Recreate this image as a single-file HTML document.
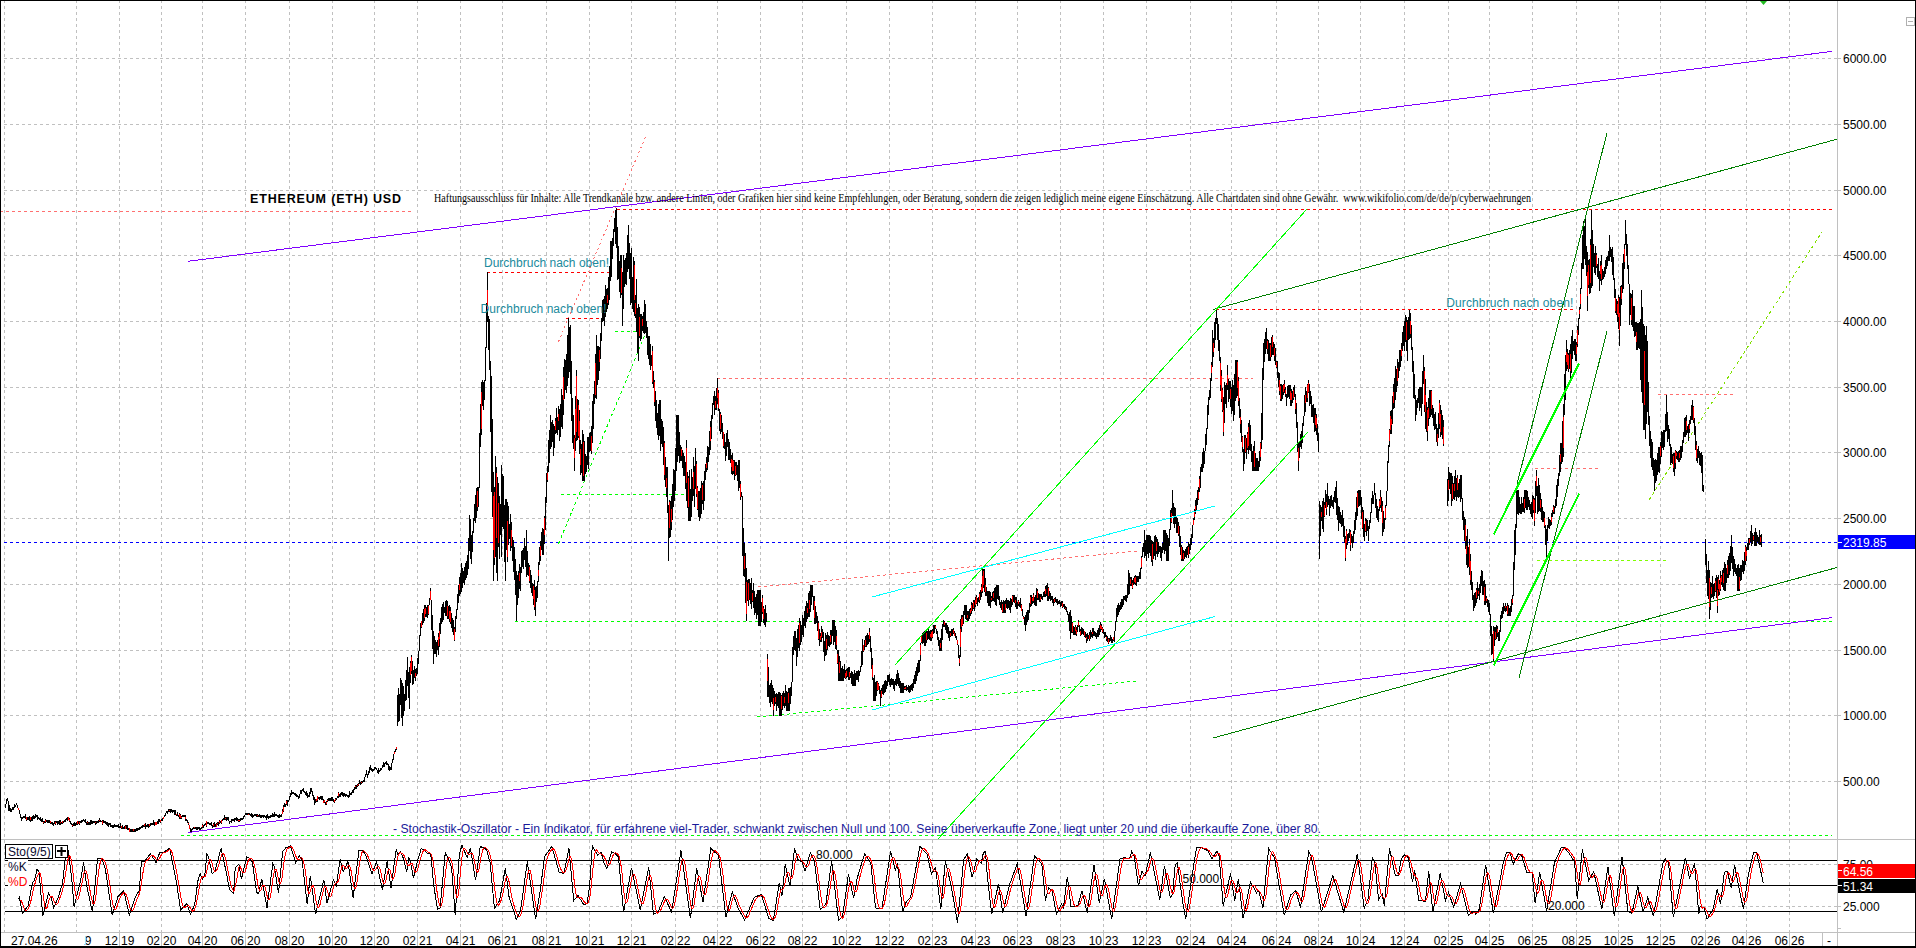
<!DOCTYPE html>
<html><head><meta charset="utf-8"><style>
html,body{margin:0;padding:0;background:#fff;width:1916px;height:948px;overflow:hidden}
svg{display:block}
</style></head><body>
<svg width="1916" height="948" viewBox="0 0 1916 948">
<rect width="1916" height="948" fill="#fff"/>
<path d="M4.5 0V932 M76.5 0V932 M119.5 0V932 M161.5 0V932 M202.5 0V932 M245.5 0V932 M289.5 0V932 M332.5 0V932 M374.5 0V932 M417.5 0V932 M460.5 0V932 M502.5 0V932 M546.5 0V932 M589.5 0V932 M631.5 0V932 M675.5 0V932 M717.5 0V932 M760.5 0V932 M802.5 0V932 M846.5 0V932 M889.5 0V932 M932.5 0V932 M975.5 0V932 M1017.5 0V932 M1060.5 0V932 M1103.5 0V932 M1146.5 0V932 M1190.5 0V932 M1231.5 0V932 M1276.5 0V932 M1318.5 0V932 M1360.5 0V932 M1404.5 0V932 M1448.5 0V932 M1489.5 0V932 M1532.5 0V932 M1576.5 0V932 M1618.5 0V932 M1660.5 0V932 M1705.5 0V932 M1746.5 0V932 M1789.5 0V932" stroke="#c0c0c0" stroke-width="1" stroke-dasharray="3 3" fill="none"/><path d="M4 58.5H1837 M4 124.5H1837 M4 190.5H1837 M4 255.5H1837 M4 321.5H1837 M4 387.5H1837 M4 452.5H1837 M4 518.5H1837 M4 584.5H1837 M4 650.5H1837 M4 715.5H1837 M4 781.5H1837 M4 864.5H1837 M4 906.5H1837" stroke="#c0c0c0" stroke-width="1" stroke-dasharray="3 3" fill="none"/><rect x="0" y="839" width="1916" height="1" fill="#c0c0c0"/><rect x="0" y="932" width="1916" height="1" fill="#c0c0c0"/><rect x="1837" y="0" width="1" height="932" fill="#c0c0c0"/><path d="M76.5 933V946 M119.5 933V946 M161.5 933V946 M202.5 933V946 M245.5 933V946 M289.5 933V946 M332.5 933V946 M374.5 933V946 M417.5 933V946 M460.5 933V946 M502.5 933V946 M546.5 933V946 M589.5 933V946 M631.5 933V946 M675.5 933V946 M717.5 933V946 M760.5 933V946 M802.5 933V946 M846.5 933V946 M889.5 933V946 M932.5 933V946 M975.5 933V946 M1017.5 933V946 M1060.5 933V946 M1103.5 933V946 M1146.5 933V946 M1190.5 933V946 M1231.5 933V946 M1276.5 933V946 M1318.5 933V946 M1360.5 933V946 M1404.5 933V946 M1448.5 933V946 M1489.5 933V946 M1532.5 933V946 M1576.5 933V946 M1618.5 933V946 M1660.5 933V946 M1705.5 933V946 M1746.5 933V946 M1789.5 933V946 M1822.5 933V946 M1837.5 933V946" stroke="#c0c0c0" stroke-width="1" fill="none"/><path d="M1838 58.5H1841 M1838 124.5H1841 M1838 190.5H1841 M1838 255.5H1841 M1838 321.5H1841 M1838 387.5H1841 M1838 452.5H1841 M1838 518.5H1841 M1838 584.5H1841 M1838 650.5H1841 M1838 715.5H1841 M1838 781.5H1841 M1838 864.5H1841 M1838 906.5H1841 M1838 928.5H1841" stroke="#c0c0c0" stroke-width="1" fill="none"/><line x1="0" y1="211.5" x2="411" y2="211.5" stroke="#ff7070" stroke-width="1" stroke-dasharray="3 3" shape-rendering="crispEdges"/><line x1="617" y1="209.5" x2="1832" y2="209.5" stroke="#ff0000" stroke-width="1" stroke-dasharray="3 3" shape-rendering="crispEdges"/><line x1="487" y1="272.5" x2="609" y2="272.5" stroke="#ff0000" stroke-width="1" stroke-dasharray="3 3" shape-rendering="crispEdges"/><line x1="566" y1="318.5" x2="599" y2="318.5" stroke="#ff0000" stroke-width="1" stroke-dasharray="3 3" shape-rendering="crispEdges"/><line x1="1216" y1="309.5" x2="1574" y2="309.5" stroke="#ff0000" stroke-width="1" stroke-dasharray="3 3" shape-rendering="crispEdges"/><line x1="717" y1="378.5" x2="1253" y2="378.5" stroke="#ff7070" stroke-width="1" stroke-dasharray="3 3" shape-rendering="crispEdges"/><line x1="4" y1="542.5" x2="1837" y2="542.5" stroke="#0000ff" stroke-width="1" stroke-dasharray="3 3" shape-rendering="crispEdges"/><line x1="515" y1="621.5" x2="1832" y2="621.5" stroke="#00ff00" stroke-width="1" stroke-dasharray="3 3" shape-rendering="crispEdges"/><line x1="181" y1="835.5" x2="1832" y2="835.5" stroke="#00ff00" stroke-width="1" stroke-dasharray="3 3" shape-rendering="crispEdges"/><line x1="561" y1="494.5" x2="688" y2="494.5" stroke="#00ff00" stroke-width="1" stroke-dasharray="3 3" shape-rendering="crispEdges"/><line x1="615" y1="331.5" x2="647" y2="331.5" stroke="#00ff00" stroke-width="1" stroke-dasharray="3 3" shape-rendering="crispEdges"/><line x1="1535" y1="468.5" x2="1600" y2="468.5" stroke="#ff7070" stroke-width="1" stroke-dasharray="3 3" shape-rendering="crispEdges"/><line x1="1537" y1="560.5" x2="1667" y2="560.5" stroke="#80ff00" stroke-width="1" stroke-dasharray="3 3" shape-rendering="crispEdges"/><line x1="1658" y1="394.5" x2="1733" y2="394.5" stroke="#ff7070" stroke-width="1" stroke-dasharray="3 3" shape-rendering="crispEdges"/><line x1="558.5" y1="341.6" x2="646" y2="135.7" stroke="#ff7070" stroke-width="1" stroke-dasharray="2 3" shape-rendering="crispEdges"/><line x1="558.5" y1="543.8" x2="647" y2="330" stroke="#00ff00" stroke-width="1" stroke-dasharray="3 3" shape-rendering="crispEdges"/><line x1="758" y1="587" x2="1138" y2="551" stroke="#ff7070" stroke-width="1" stroke-dasharray="3 3" shape-rendering="crispEdges"/><line x1="757" y1="717" x2="1137" y2="681" stroke="#00ff00" stroke-width="1" stroke-dasharray="3 3" shape-rendering="crispEdges"/><line x1="1649" y1="500" x2="1822" y2="232" stroke="#80e000" stroke-width="1" stroke-dasharray="3 3" shape-rendering="crispEdges"/><path d="M5.5 803.7V807.5 M6.5 799.4V804.4 M7.5 797.5V801.2 M8.5 800.7V811.0 M9.5 805.2V811.3 M10.5 807.9V811.8 M11.5 808.7V811.5 M12.5 806.6V810.0 M13.5 807.0V810.2 M14.5 803.6V807.8 M15.5 804.5V806.6 M16.5 802.5V805.2 M17.5 804.7V808.0 M18.5 807.5V810.3 M19.5 809.8V814.0 M20.5 813.5V817.5 M21.5 817.0V820.5 M22.5 816.7V819.2 M23.5 815.6V818.2 M24.5 816.1V818.4 M25.5 814.3V818.7 M26.5 817.1V820.5 M27.5 816.9V819.8 M28.5 817.2V820.0 M29.5 815.6V820.5 M30.5 816.6V821.8 M31.5 817.2V820.8 M32.5 816.2V820.5 M33.5 814.5V818.8 M34.5 816.1V818.9 M35.5 814.4V818.0 M36.5 814.5V817.2 M37.5 815.2V819.6 M38.5 817.1V819.2 M39.5 818.0V819.8 M40.5 816.6V820.9 M41.5 819.4V821.7 M42.5 818.4V822.2 M43.5 820.7V823.5 M44.5 820.5V822.5 M45.5 819.4V822.7 M46.5 819.5V821.8 M47.5 820.4V822.5 M48.5 820.4V823.0 M49.5 820.3V822.9 M50.5 820.8V824.2 M51.5 821.5V823.8 M52.5 822.3V824.5 M53.5 822.9V825.5 M54.5 821.1V824.1 M55.5 821.2V824.6 M56.5 820.5V822.8 M57.5 820.8V825.0 M58.5 821.3V824.1 M59.5 819.7V825.2 M60.5 819.9V824.5 M61.5 821.8V824.1 M62.5 820.9V823.6 M63.5 820.7V823.0 M64.5 819.5V821.8 M65.5 819.1V821.5 M66.5 817.6V819.8 M67.5 816.5V820.5 M68.5 816.5V820.0 M69.5 818.3V821.6 M70.5 821.1V823.9 M71.5 823.3V825.3 M72.5 823.6V826.5 M73.5 823.1V826.0 M74.5 821.5V826.3 M75.5 822.7V826.2 M76.5 821.7V824.5 M77.5 820.7V824.7 M78.5 821.1V823.6 M79.5 821.3V825.1 M80.5 820.5V822.9 M81.5 820.4V822.8 M82.5 819.8V821.6 M83.5 818.5V821.3 M84.5 819.6V821.9 M85.5 819.0V823.2 M86.5 821.9V824.5 M87.5 821.0V824.5 M88.5 821.8V824.5 M89.5 822.1V824.5 M90.5 819.7V824.5 M91.5 819.5V824.1 M92.5 821.0V823.5 M93.5 820.5V822.8 M94.5 820.5V823.2 M95.5 820.7V824.5 M96.5 820.6V823.5 M97.5 820.8V823.1 M98.5 820.0V823.0 M99.5 818.1V822.1 M100.5 819.5V821.8 M101.5 820.5V822.3 M102.5 820.0V824.8 M103.5 820.4V823.0 M104.5 820.9V822.8 M105.5 821.0V823.5 M106.5 821.7V825.4 M107.5 822.2V825.8 M108.5 822.5V827.1 M109.5 823.1V825.3 M110.5 823.4V827.0 M111.5 824.7V826.5 M112.5 824.6V827.5 M113.5 824.6V827.5 M114.5 823.6V827.3 M115.5 824.5V826.9 M116.5 824.5V826.8 M117.5 825.0V827.0 M118.5 823.8V827.9 M119.5 825.8V827.8 M120.5 823.2V827.9 M121.5 825.8V828.6 M122.5 824.8V829.3 M123.5 826.8V828.6 M124.5 826.4V828.6 M125.5 825.3V829.2 M126.5 825.2V829.4 M127.5 825.4V830.0 M128.5 827.9V830.4 M129.5 827.6V832.3 M130.5 828.8V831.5 M131.5 829.3V831.5 M132.5 829.2V831.5 M133.5 828.7V831.5 M134.5 828.7V831.5 M135.5 828.6V831.5 M136.5 828.4V831.1 M137.5 827.8V831.3 M138.5 827.7V830.3 M139.5 827.1V829.7 M140.5 827.0V829.3 M141.5 825.9V828.3 M142.5 825.2V828.3 M143.5 825.1V827.4 M144.5 824.0V827.3 M145.5 823.0V829.2 M146.5 824.5V826.8 M147.5 824.0V826.6 M148.5 824.0V827.6 M149.5 823.6V826.5 M150.5 823.4V825.8 M151.5 822.9V825.2 M152.5 822.8V824.9 M153.5 820.0V825.2 M154.5 822.2V825.9 M155.5 821.8V825.1 M156.5 821.9V825.4 M157.5 821.3V823.6 M158.5 819.2V823.5 M159.5 818.8V822.3 M160.5 820.1V823.2 M161.5 818.8V820.9 M162.5 817.6V820.5 M163.5 816.5V819.1 M164.5 815.2V817.4 M165.5 812.6V815.7 M166.5 810.5V813.1 M167.5 810.6V813.7 M168.5 809.1V812.4 M169.5 809.1V811.9 M170.5 808.5V812.7 M171.5 809.3V811.6 M172.5 809.6V813.1 M173.5 809.6V811.9 M174.5 810.1V814.7 M175.5 810.3V814.7 M176.5 813.5V816.2 M177.5 812.1V816.4 M178.5 815.2V817.4 M179.5 813.0V819.1 M180.5 814.4V818.5 M181.5 816.0V819.3 M182.5 815.2V817.3 M183.5 814.8V817.0 M184.5 814.5V817.3 M185.5 815.0V820.9 M186.5 818.9V821.3 M187.5 820.3V823.1 M188.5 821.5V825.2 M189.5 824.6V828.9 M190.5 828.4V832.5 M191.5 828.7V831.5 M192.5 828.0V830.2 M193.5 826.5V828.8 M194.5 826.5V829.4 M195.5 826.5V829.4 M196.5 826.5V829.7 M197.5 826.5V829.5 M198.5 826.8V829.2 M199.5 826.9V830.7 M200.5 828.0V830.5 M201.5 826.9V829.2 M202.5 823.8V828.3 M203.5 825.0V827.8 M204.5 823.9V826.0 M205.5 823.1V825.0 M206.5 820.8V826.6 M207.5 821.5V823.9 M208.5 822.3V824.4 M209.5 822.6V824.9 M210.5 822.5V824.9 M211.5 821.5V826.4 M212.5 825.1V827.5 M213.5 823.4V826.6 M214.5 821.9V826.6 M215.5 823.9V826.5 M216.5 823.0V827.1 M217.5 822.2V825.1 M218.5 822.1V826.1 M219.5 819.8V823.7 M220.5 820.7V822.7 M221.5 819.8V824.0 M222.5 819.2V821.2 M223.5 817.8V820.1 M224.5 815.3V820.0 M225.5 816.9V819.5 M226.5 816.5V820.8 M227.5 816.5V820.1 M228.5 816.5V821.4 M229.5 820.5V823.5 M230.5 820.6V822.3 M231.5 818.6V822.9 M232.5 819.0V821.2 M233.5 818.6V820.9 M234.5 818.2V821.7 M235.5 817.5V819.9 M236.5 816.7V821.4 M237.5 817.6V820.7 M238.5 818.8V821.5 M239.5 818.5V822.0 M240.5 818.3V821.0 M241.5 818.1V820.3 M242.5 818.2V820.4 M243.5 816.1V819.3 M244.5 814.5V817.2 M245.5 812.5V815.3 M246.5 812.5V815.1 M247.5 812.5V815.4 M248.5 812.5V815.1 M249.5 813.4V815.4 M250.5 813.9V816.4 M251.5 813.1V816.8 M252.5 813.9V817.5 M253.5 814.7V816.8 M254.5 814.0V816.4 M255.5 814.3V816.3 M256.5 813.5V816.8 M257.5 814.0V816.7 M258.5 814.6V816.5 M259.5 814.4V816.8 M260.5 815.2V817.5 M261.5 814.6V817.5 M262.5 814.6V817.2 M263.5 814.5V817.5 M264.5 814.5V817.0 M265.5 815.5V817.7 M266.5 815.4V819.5 M267.5 813.8V817.6 M268.5 816.1V818.5 M269.5 815.7V818.0 M270.5 815.4V817.7 M271.5 814.7V817.2 M272.5 813.0V817.1 M273.5 814.0V816.5 M274.5 811.6V816.7 M275.5 813.5V815.9 M276.5 814.3V816.3 M277.5 814.6V817.2 M278.5 815.0V817.5 M279.5 813.5V817.9 M280.5 814.5V817.0 M281.5 813.9V816.6 M282.5 809.2V814.4 M283.5 804.9V811.6 M284.5 802.7V807.1 M285.5 804.0V807.1 M286.5 800.4V804.8 M287.5 800.3V806.2 M288.5 799.5V802.3 M289.5 796.1V800.0 M290.5 792.8V796.6 M291.5 790.1V795.0 M292.5 792.0V794.4 M293.5 791.5V794.3 M294.5 792.7V794.7 M295.5 792.8V795.7 M296.5 794.2V796.5 M297.5 794.9V797.3 M298.5 796.0V798.5 M299.5 793.6V797.7 M300.5 789.9V794.4 M301.5 790.0V793.6 M302.5 788.5V790.8 M303.5 787.9V792.4 M304.5 790.6V793.2 M305.5 791.6V795.3 M306.5 790.9V796.0 M307.5 792.9V797.5 M308.5 794.6V796.5 M309.5 792.2V796.5 M310.5 787.5V793.9 M311.5 788.1V791.8 M312.5 791.3V796.2 M313.5 794.8V799.5 M314.5 797.0V804.5 M315.5 799.0V803.1 M316.5 799.0V802.1 M317.5 795.9V801.8 M318.5 797.1V799.3 M319.5 796.8V799.5 M320.5 796.3V798.8 M321.5 795.5V799.9 M322.5 796.0V799.9 M323.5 798.7V803.2 M324.5 799.5V803.0 M325.5 802.3V804.5 M326.5 800.8V805.1 M327.5 798.9V801.8 M328.5 797.5V800.7 M329.5 798.1V800.7 M330.5 798.3V801.1 M331.5 797.1V801.4 M332.5 796.8V801.2 M333.5 799.2V801.5 M334.5 799.6V802.5 M335.5 798.3V800.9 M336.5 797.6V799.8 M337.5 795.8V798.1 M338.5 792.4V797.5 M339.5 793.5V796.5 M340.5 792.9V796.9 M341.5 791.5V794.5 M342.5 792.2V796.1 M343.5 792.6V796.8 M344.5 793.2V795.7 M345.5 793.6V796.8 M346.5 794.4V796.1 M347.5 794.5V797.3 M348.5 794.7V797.5 M349.5 791.4V796.5 M350.5 792.9V794.9 M351.5 792.0V795.4 M352.5 790.4V792.9 M353.5 788.7V792.5 M354.5 787.3V789.8 M355.5 784.5V788.9 M356.5 784.9V788.5 M357.5 783.9V786.6 M358.5 782.9V785.5 M359.5 780.2V784.4 M360.5 781.8V784.5 M361.5 781.1V783.9 M362.5 781.0V783.1 M363.5 780.0V782.0 M364.5 776.8V782.3 M365.5 774.3V777.3 M366.5 770.2V774.8 M367.5 774.3V778.3 M368.5 771.2V774.8 M369.5 766.5V772.8 M370.5 765.1V769.5 M371.5 767.9V770.7 M372.5 768.8V771.5 M373.5 768.6V770.5 M374.5 767.4V769.8 M375.5 766.5V769.1 M376.5 768.2V770.4 M377.5 769.5V772.8 M378.5 768.1V773.5 M379.5 769.6V771.8 M380.5 768.4V771.2 M381.5 767.6V770.4 M382.5 765.2V768.1 M383.5 761.9V766.5 M384.5 762.6V766.5 M385.5 762.3V764.4 M386.5 760.5V764.5 M387.5 763.4V765.4 M388.5 764.2V770.1 M389.5 766.2V770.5 M390.5 767.2V769.5 M391.5 762.5V769.5 M392.5 758.7V763.0 M393.5 753.6V759.8 M394.5 751.1V754.1 M395.5 749.2V751.8 M396.5 746.5V749.7 M397.5 694.7V725.6 M398.5 688.3V721.9 M399.5 693.9V720.5 M400.5 677.5V705.2 M401.5 679.6V718.4 M402.5 683.2V725.5 M403.5 685.6V716.0 M404.5 694.3V711.0 M405.5 679.8V700.7 M406.5 669.6V699.8 M407.5 656.5V686.2 M408.5 671.6V698.2 M409.5 666.5V708.5 M410.5 660.6V683.3 M411.5 654.5V674.0 M412.5 660.6V684.5 M413.5 669.6V684.0 M414.5 665.5V678.1 M415.5 669.0V680.7 M416.5 667.7V676.0 M417.5 657.5V674.1 M418.5 650.7V663.8 M419.5 634.7V651.2 M420.5 623.2V636.3 M421.5 620.6V627.8 M422.5 612.9V624.8 M423.5 609.0V623.0 M424.5 604.5V620.6 M425.5 604.5V616.7 M426.5 606.8V616.9 M427.5 604.7V617.8 M428.5 604.8V614.5 M429.5 598.4V605.3 M430.5 587.5V600.2 M431.5 599.7V630.3 M432.5 614.8V649.2 M433.5 630.8V663.5 M434.5 635.7V654.4 M435.5 639.6V654.4 M436.5 641.9V657.4 M437.5 639.7V649.7 M438.5 632.5V654.8 M439.5 623.0V647.4 M440.5 618.3V633.8 M441.5 606.8V624.4 M442.5 604.4V622.3 M443.5 602.3V620.2 M444.5 607.1V613.4 M445.5 600.7V616.1 M446.5 599.5V616.3 M447.5 601.3V618.9 M448.5 606.3V618.8 M449.5 605.0V621.7 M450.5 607.0V623.6 M451.5 613.4V628.2 M452.5 618.2V632.4 M453.5 619.9V634.6 M454.5 626.8V640.5 M455.5 616.3V631.9 M456.5 608.8V619.0 M457.5 593.5V610.1 M458.5 585.1V603.2 M459.5 576.7V596.0 M460.5 572.9V594.3 M461.5 563.2V591.5 M462.5 568.4V587.5 M463.5 571.1V582.5 M464.5 566.6V585.3 M465.5 562.6V579.7 M466.5 560.7V577.7 M467.5 554.7V574.6 M468.5 537.7V568.9 M469.5 514.5V551.1 M470.5 518.8V558.8 M471.5 534.9V563.5 M472.5 530.8V551.6 M473.5 517.9V533.3 M474.5 504.2V521.2 M475.5 495.2V522.9 M476.5 487.7V518.1 M477.5 486.8V511.1 M478.5 487.3V506.7 M479.5 432.9V487.8 M480.5 404.3V446.8 M481.5 381.5V434.9 M482.5 380.0V405.9 M483.5 381.8V409.9 M484.5 380.2V399.5 M485.5 346.6V380.7 M486.5 302.9V348.3 M487.5 271.5V321.9 M488.5 315.9V349.8 M489.5 318.7V370.1 M490.5 360.5V432.2 M491.5 376.0V492.3 M492.5 419.0V516.9 M493.5 472.4V580.5 M494.5 487.3V565.3 M495.5 456.1V557.3 M496.5 466.5V572.5 M497.5 477.2V580.5 M498.5 482.9V547.2 M499.5 496.0V559.4 M500.5 504.2V535.2 M501.5 464.5V557.2 M502.5 473.9V527.0 M503.5 475.8V529.4 M504.5 504.6V561.6 M505.5 499.4V580.5 M506.5 498.5V549.5 M507.5 502.4V562.1 M508.5 506.0V545.3 M509.5 523.8V538.7 M510.5 513.7V550.9 M511.5 522.1V548.2 M512.5 537.2V560.8 M513.5 540.1V571.6 M514.5 547.2V579.8 M515.5 559.3V595.1 M516.5 570.7V620.5 M517.5 575.0V604.8 M518.5 570.7V597.8 M519.5 564.4V589.0 M520.5 566.5V591.4 M521.5 551.0V572.5 M522.5 550.1V567.2 M523.5 547.8V568.9 M524.5 537.5V560.1 M525.5 545.7V566.7 M526.5 529.5V577.4 M527.5 550.7V574.6 M528.5 562.5V576.0 M529.5 564.7V583.1 M530.5 570.0V588.3 M531.5 574.9V593.0 M532.5 582.7V596.0 M533.5 583.9V604.6 M534.5 579.9V609.7 M535.5 587.3V615.5 M536.5 585.7V602.4 M537.5 580.9V598.3 M538.5 562.2V582.4 M539.5 547.3V564.6 M540.5 540.6V560.7 M541.5 531.5V550.2 M542.5 528.2V554.5 M543.5 528.5V555.4 M544.5 515.5V544.3 M545.5 497.2V530.0 M546.5 473.3V502.7 M547.5 466.4V481.9 M548.5 440.0V472.2 M549.5 429.6V462.6 M550.5 414.5V448.9 M551.5 421.5V446.5 M552.5 419.8V442.3 M553.5 424.1V455.5 M554.5 425.9V447.6 M555.5 417.5V434.3 M556.5 408.3V432.7 M557.5 417.1V435.2 M558.5 405.8V430.4 M559.5 409.2V440.5 M560.5 404.2V437.2 M561.5 389.4V426.6 M562.5 395.1V428.5 M563.5 366.5V415.2 M564.5 358.7V398.7 M565.5 360.0V389.8 M566.5 353.5V392.5 M567.5 335.4V385.9 M568.5 317.5V377.7 M569.5 327.1V372.2 M570.5 324.7V393.8 M571.5 361.2V421.4 M572.5 398.2V443.0 M573.5 415.0V448.8 M574.5 435.1V470.5 M575.5 396.4V450.7 M576.5 369.5V441.3 M577.5 398.9V439.8 M578.5 399.8V438.3 M579.5 409.5V454.1 M580.5 439.5V474.9 M581.5 443.7V473.0 M582.5 429.6V480.5 M583.5 433.6V480.5 M584.5 440.9V480.5 M585.5 454.4V474.1 M586.5 455.6V472.3 M587.5 437.4V465.1 M588.5 436.6V468.9 M589.5 433.4V452.4 M590.5 431.7V451.0 M591.5 425.6V454.2 M592.5 401.0V443.0 M593.5 393.5V428.6 M594.5 380.9V403.5 M595.5 353.6V397.6 M596.5 334.5V398.7 M597.5 346.1V385.3 M598.5 345.8V379.8 M599.5 346.6V371.2 M600.5 332.9V358.6 M601.5 318.3V340.5 M602.5 299.7V321.6 M603.5 298.8V321.2 M604.5 296.4V325.7 M605.5 285.2V316.8 M606.5 288.8V311.7 M607.5 288.2V308.9 M608.5 277.1V304.7 M609.5 266.4V300.2 M610.5 241.4V281.2 M611.5 240.8V277.4 M612.5 238.2V259.1 M613.5 229.2V245.7 M614.5 218.3V231.8 M615.5 209.7V243.8 M616.5 207.5V248.3 M617.5 226.8V280.0 M618.5 246.3V278.5 M619.5 261.4V291.8 M620.5 254.6V298.1 M621.5 255.0V295.0 M622.5 272.4V325.5 M623.5 255.3V308.8 M624.5 259.7V287.1 M625.5 257.5V283.8 M626.5 252.9V285.2 M627.5 234.9V271.8 M628.5 224.5V268.6 M629.5 243.3V279.1 M630.5 253.3V304.8 M631.5 247.5V302.7 M632.5 276.5V309.0 M633.5 257.0V311.6 M634.5 260.6V316.3 M635.5 294.6V318.1 M636.5 278.8V332.1 M637.5 308.0V353.0 M638.5 304.4V360.5 M639.5 307.3V338.2 M640.5 313.8V340.7 M641.5 313.7V339.2 M642.5 315.9V330.5 M643.5 312.3V333.2 M644.5 299.5V333.6 M645.5 303.5V332.9 M646.5 321.2V338.3 M647.5 326.7V355.0 M648.5 336.1V359.4 M649.5 336.4V365.2 M650.5 343.6V369.8 M651.5 355.3V366.0 M652.5 345.8V384.4 M653.5 370.7V387.8 M654.5 380.1V405.6 M655.5 390.5V420.7 M656.5 399.9V427.8 M657.5 412.8V434.6 M658.5 404.3V439.9 M659.5 399.5V436.4 M660.5 399.5V450.7 M661.5 418.6V444.0 M662.5 421.0V447.3 M663.5 427.4V464.9 M664.5 440.5V480.1 M665.5 457.1V487.4 M666.5 466.8V496.6 M667.5 466.6V512.8 M668.5 505.0V560.5 M669.5 499.6V537.5 M670.5 501.1V537.1 M671.5 495.5V530.1 M672.5 483.9V519.6 M673.5 468.6V507.1 M674.5 470.4V500.5 M675.5 447.9V491.2 M676.5 414.5V471.1 M677.5 414.5V461.7 M678.5 414.5V456.1 M679.5 431.9V462.6 M680.5 444.5V461.3 M681.5 447.2V461.0 M682.5 449.9V467.5 M683.5 452.6V475.5 M684.5 455.5V475.8 M685.5 462.3V489.0 M686.5 439.5V501.0 M687.5 472.2V507.6 M688.5 475.7V520.5 M689.5 470.0V520.5 M690.5 488.8V520.5 M691.5 469.3V516.7 M692.5 477.3V501.0 M693.5 457.4V495.8 M694.5 465.7V506.9 M695.5 447.5V488.5 M696.5 460.5V496.7 M697.5 486.4V510.0 M698.5 491.4V516.8 M699.5 490.6V520.5 M700.5 488.2V517.9 M701.5 480.8V513.6 M702.5 483.3V504.1 M703.5 480.5V510.4 M704.5 471.0V501.0 M705.5 464.1V480.3 M706.5 457.3V471.6 M707.5 446.2V469.5 M708.5 446.6V462.2 M709.5 431.2V455.4 M710.5 421.0V450.4 M711.5 415.0V438.5 M712.5 402.9V418.9 M713.5 395.7V405.4 M714.5 391.3V414.5 M715.5 395.5V409.8 M716.5 388.4V410.2 M717.5 377.5V403.6 M718.5 389.5V410.5 M719.5 408.7V431.4 M720.5 411.9V434.4 M721.5 414.9V431.7 M722.5 423.1V438.8 M723.5 431.5V448.4 M724.5 434.2V448.8 M725.5 442.4V460.5 M726.5 432.7V456.2 M727.5 429.5V447.2 M728.5 439.4V459.7 M729.5 442.1V459.5 M730.5 449.3V463.2 M731.5 455.2V474.3 M732.5 453.4V474.7 M733.5 459.8V474.1 M734.5 460.1V480.1 M735.5 461.7V476.4 M736.5 462.1V474.8 M737.5 465.1V480.7 M738.5 459.5V490.6 M739.5 459.5V487.5 M740.5 481.0V499.9 M741.5 491.8V496.7 M742.5 496.2V556.2 M743.5 527.9V576.2 M744.5 543.4V577.0 M745.5 552.6V603.4 M746.5 568.1V620.5 M747.5 580.3V600.6 M748.5 578.8V605.7 M749.5 578.5V600.1 M750.5 583.1V603.6 M751.5 577.6V609.1 M752.5 589.7V601.8 M753.5 582.5V608.3 M754.5 590.9V614.8 M755.5 596.6V613.2 M756.5 594.3V618.9 M757.5 589.5V614.7 M758.5 589.5V625.5 M759.5 589.5V625.5 M760.5 589.5V625.5 M761.5 602.3V622.0 M762.5 594.9V613.7 M763.5 605.8V623.0 M764.5 608.7V624.6 M765.5 605.2V626.9 M766.5 612.9V622.0 M767.5 654.3V697.1 M768.5 667.4V697.0 M769.5 685.0V702.6 M770.5 683.4V706.8 M771.5 679.5V702.2 M772.5 685.0V704.3 M773.5 687.8V715.5 M774.5 690.6V705.7 M775.5 694.0V703.9 M776.5 693.3V711.3 M777.5 694.4V705.5 M778.5 692.0V707.6 M779.5 692.1V715.5 M780.5 692.7V715.5 M781.5 694.6V715.5 M782.5 693.1V710.0 M783.5 691.4V706.1 M784.5 693.0V708.4 M785.5 684.5V706.1 M786.5 691.4V710.5 M787.5 692.2V710.5 M788.5 688.0V710.5 M789.5 688.2V710.5 M790.5 686.9V703.9 M791.5 681.9V696.0 M792.5 647.4V682.4 M793.5 635.6V654.6 M794.5 631.0V650.2 M795.5 630.9V650.8 M796.5 638.0V665.5 M797.5 628.7V656.7 M798.5 624.7V648.2 M799.5 618.4V650.5 M800.5 620.9V645.4 M801.5 625.1V642.0 M802.5 614.8V634.9 M803.5 618.0V637.1 M804.5 611.1V625.7 M805.5 606.3V627.7 M806.5 600.8V621.5 M807.5 602.9V619.1 M808.5 593.4V617.2 M809.5 590.7V616.8 M810.5 584.5V612.2 M811.5 584.5V604.8 M812.5 584.5V597.3 M813.5 596.0V610.3 M814.5 596.1V624.0 M815.5 605.7V624.0 M816.5 611.9V623.1 M817.5 615.8V631.0 M818.5 621.1V640.2 M819.5 628.5V646.1 M820.5 633.1V641.5 M821.5 625.7V641.9 M822.5 628.5V638.1 M823.5 632.1V652.3 M824.5 640.6V660.5 M825.5 632.7V656.2 M826.5 634.6V654.5 M827.5 632.1V650.1 M828.5 635.1V646.3 M829.5 636.0V646.7 M830.5 629.5V644.6 M831.5 629.8V643.6 M832.5 619.5V636.4 M833.5 619.5V644.7 M834.5 619.5V641.9 M835.5 625.9V649.0 M836.5 629.6V650.0 M837.5 649.5V664.4 M838.5 649.8V680.5 M839.5 656.4V680.5 M840.5 660.7V680.5 M841.5 667.5V680.5 M842.5 666.1V680.5 M843.5 669.3V680.5 M844.5 664.2V678.2 M845.5 669.6V678.8 M846.5 669.1V678.3 M847.5 667.7V676.6 M848.5 667.2V679.5 M849.5 666.5V680.3 M850.5 672.6V678.3 M851.5 670.6V683.5 M852.5 672.4V685.5 M853.5 673.5V685.5 M854.5 670.3V685.5 M855.5 673.0V685.5 M856.5 671.4V679.9 M857.5 670.6V680.0 M858.5 670.1V681.7 M859.5 670.6V675.6 M860.5 666.3V672.3 M861.5 651.4V666.9 M862.5 639.1V665.4 M863.5 644.9V652.0 M864.5 640.0V649.9 M865.5 635.8V647.1 M866.5 635.0V647.4 M867.5 633.2V645.2 M868.5 634.9V644.4 M869.5 627.5V642.1 M870.5 636.1V652.0 M871.5 648.3V669.2 M872.5 658.3V680.0 M873.5 678.4V700.5 M874.5 674.8V700.5 M875.5 682.2V700.5 M876.5 680.7V695.8 M877.5 681.1V691.4 M878.5 683.1V690.2 M879.5 686.1V694.2 M880.5 689.9V705.5 M881.5 687.6V697.5 M882.5 684.9V694.2 M883.5 683.9V694.5 M884.5 681.4V693.0 M885.5 679.8V691.8 M886.5 681.2V689.2 M887.5 674.8V686.1 M888.5 674.5V681.8 M889.5 674.3V684.6 M890.5 678.5V686.5 M891.5 677.5V685.3 M892.5 678.5V685.3 M893.5 678.8V688.8 M894.5 680.5V690.5 M895.5 678.5V684.5 M896.5 673.6V685.6 M897.5 669.5V683.5 M898.5 673.4V686.1 M899.5 677.6V687.9 M900.5 680.5V692.5 M901.5 682.8V692.5 M902.5 682.9V692.5 M903.5 682.9V692.5 M904.5 685.8V690.3 M905.5 685.8V689.8 M906.5 684.5V690.7 M907.5 686.6V689.5 M908.5 685.3V691.6 M909.5 686.1V692.5 M910.5 684.8V691.9 M911.5 684.3V689.8 M912.5 682.5V691.0 M913.5 678.9V688.0 M914.5 675.1V683.5 M915.5 670.7V683.7 M916.5 667.2V681.4 M917.5 662.8V676.0 M918.5 659.6V672.7 M919.5 660.2V671.6 M920.5 642.6V660.7 M921.5 634.8V643.1 M922.5 632.9V643.5 M923.5 632.1V643.3 M924.5 631.3V645.5 M925.5 629.5V645.5 M926.5 629.5V642.8 M927.5 630.5V640.3 M928.5 629.0V639.2 M929.5 630.8V639.8 M930.5 629.8V640.5 M931.5 630.4V640.5 M932.5 628.7V638.4 M933.5 624.5V633.6 M934.5 624.5V632.7 M935.5 624.5V629.4 M936.5 628.5V633.5 M937.5 631.0V640.1 M938.5 637.1V646.4 M939.5 639.5V650.5 M940.5 638.2V650.5 M941.5 629.4V650.5 M942.5 624.3V639.9 M943.5 619.5V627.3 M944.5 621.3V627.4 M945.5 623.0V630.2 M946.5 623.2V633.1 M947.5 625.2V633.5 M948.5 627.3V637.6 M949.5 631.4V640.5 M950.5 631.0V636.8 M951.5 628.9V635.5 M952.5 628.7V635.9 M953.5 627.5V634.1 M954.5 631.1V636.4 M955.5 632.7V637.6 M956.5 636.0V640.3 M957.5 639.7V645.2 M958.5 644.7V658.1 M959.5 655.3V665.5 M960.5 619.1V657.2 M961.5 615.2V632.3 M962.5 614.9V626.3 M963.5 610.6V623.5 M964.5 604.5V615.1 M965.5 604.5V619.1 M966.5 604.5V619.6 M967.5 611.4V620.5 M968.5 610.9V620.5 M969.5 608.8V618.9 M970.5 607.5V616.0 M971.5 602.2V614.1 M972.5 602.5V610.6 M973.5 600.1V609.0 M974.5 599.9V611.0 M975.5 597.0V606.9 M976.5 595.0V604.2 M977.5 598.2V606.2 M978.5 596.8V602.4 M979.5 592.3V602.9 M980.5 590.3V600.1 M981.5 584.4V596.7 M982.5 566.5V592.9 M983.5 569.2V587.8 M984.5 568.6V591.7 M985.5 578.3V595.8 M986.5 587.4V595.7 M987.5 590.9V602.6 M988.5 590.9V605.8 M989.5 590.5V606.0 M990.5 591.5V607.5 M991.5 596.0V601.6 M992.5 591.6V600.7 M993.5 591.1V601.3 M994.5 588.3V601.9 M995.5 587.0V604.6 M996.5 584.5V605.5 M997.5 584.5V599.0 M998.5 584.5V599.7 M999.5 596.1V604.9 M1000.5 601.8V608.4 M1001.5 599.6V610.1 M1002.5 602.0V612.5 M1003.5 600.0V612.5 M1004.5 600.7V612.5 M1005.5 599.9V612.5 M1006.5 598.2V607.6 M1007.5 599.9V609.1 M1008.5 599.9V607.9 M1009.5 600.7V610.1 M1010.5 597.5V612.5 M1011.5 598.6V606.5 M1012.5 594.5V604.5 M1013.5 594.5V602.0 M1014.5 594.5V602.7 M1015.5 597.0V606.7 M1016.5 596.6V608.5 M1017.5 601.9V608.5 M1018.5 599.7V605.5 M1019.5 601.8V607.3 M1020.5 597.5V607.8 M1021.5 603.5V611.1 M1022.5 609.0V616.4 M1023.5 615.9V619.0 M1024.5 616.7V625.4 M1025.5 614.6V630.5 M1026.5 612.4V624.9 M1027.5 609.6V622.4 M1028.5 609.8V620.0 M1029.5 602.7V613.3 M1030.5 594.5V606.6 M1031.5 594.5V605.5 M1032.5 596.7V603.7 M1033.5 593.0V602.6 M1034.5 597.0V604.9 M1035.5 594.8V605.5 M1036.5 587.5V605.5 M1037.5 589.1V600.4 M1038.5 593.0V600.1 M1039.5 593.9V602.0 M1040.5 594.3V602.2 M1041.5 593.9V599.0 M1042.5 596.0V600.4 M1043.5 591.9V597.1 M1044.5 591.4V596.6 M1045.5 585.8V597.1 M1046.5 585.3V596.1 M1047.5 582.5V600.5 M1048.5 586.7V600.5 M1049.5 591.1V598.6 M1050.5 593.0V601.1 M1051.5 595.9V600.4 M1052.5 595.7V603.1 M1053.5 598.6V605.5 M1054.5 597.9V603.4 M1055.5 596.7V601.8 M1056.5 598.9V603.3 M1057.5 598.7V604.8 M1058.5 600.7V603.8 M1059.5 599.7V604.4 M1060.5 601.8V606.5 M1061.5 601.3V606.1 M1062.5 601.3V607.8 M1063.5 603.5V606.8 M1064.5 603.6V609.4 M1065.5 606.4V609.8 M1066.5 607.1V612.3 M1067.5 611.2V615.2 M1068.5 613.7V622.3 M1069.5 611.5V630.7 M1070.5 609.5V638.5 M1071.5 615.8V633.2 M1072.5 621.6V632.9 M1073.5 626.3V635.0 M1074.5 626.6V635.3 M1075.5 625.4V634.6 M1076.5 627.4V635.5 M1077.5 624.6V631.9 M1078.5 619.5V626.7 M1079.5 625.1V632.4 M1080.5 628.8V635.5 M1081.5 626.8V635.0 M1082.5 628.4V634.0 M1083.5 629.1V635.4 M1084.5 630.5V636.8 M1085.5 631.8V638.4 M1086.5 634.2V642.5 M1087.5 632.5V640.7 M1088.5 634.5V639.0 M1089.5 632.4V640.6 M1090.5 630.4V638.7 M1091.5 632.0V636.6 M1092.5 627.5V638.2 M1093.5 628.2V636.1 M1094.5 630.8V636.3 M1095.5 631.6V637.0 M1096.5 632.7V638.5 M1097.5 630.2V637.3 M1098.5 628.3V637.4 M1099.5 625.0V634.5 M1100.5 621.5V631.7 M1101.5 623.8V630.4 M1102.5 626.6V632.5 M1103.5 629.4V633.7 M1104.5 632.4V638.3 M1105.5 632.0V637.2 M1106.5 634.9V640.6 M1107.5 636.3V641.8 M1108.5 637.7V643.5 M1109.5 637.9V641.9 M1110.5 634.5V640.5 M1111.5 637.1V642.7 M1112.5 638.5V642.5 M1113.5 636.5V640.5 M1114.5 630.5V642.0 M1115.5 621.1V631.0 M1116.5 608.4V621.6 M1117.5 605.1V616.7 M1118.5 603.0V614.9 M1119.5 605.1V612.1 M1120.5 602.3V610.1 M1121.5 598.9V609.0 M1122.5 598.6V607.3 M1123.5 596.2V604.5 M1124.5 595.5V599.9 M1125.5 594.9V600.6 M1126.5 595.0V602.0 M1127.5 584.0V597.9 M1128.5 569.5V594.8 M1129.5 573.2V593.9 M1130.5 576.8V585.5 M1131.5 577.0V586.2 M1132.5 579.9V589.3 M1133.5 578.4V584.8 M1134.5 576.4V584.4 M1135.5 575.4V585.1 M1136.5 575.6V585.6 M1137.5 575.5V581.8 M1138.5 576.2V581.8 M1139.5 571.6V579.3 M1140.5 568.2V578.6 M1141.5 555.7V568.7 M1142.5 546.9V556.8 M1143.5 542.5V551.5 M1144.5 529.5V558.2 M1145.5 540.0V556.1 M1146.5 534.7V560.5 M1147.5 535.2V554.2 M1148.5 535.1V557.9 M1149.5 534.5V553.1 M1150.5 535.9V555.8 M1151.5 539.6V562.1 M1152.5 540.7V565.5 M1153.5 541.8V559.1 M1154.5 535.6V555.7 M1155.5 534.5V559.7 M1156.5 536.7V553.5 M1157.5 538.5V557.1 M1158.5 542.3V554.2 M1159.5 546.0V552.0 M1160.5 545.5V558.4 M1161.5 546.5V560.5 M1162.5 542.8V552.5 M1163.5 529.5V549.6 M1164.5 529.5V553.8 M1165.5 529.5V551.2 M1166.5 533.4V560.5 M1167.5 535.1V560.5 M1168.5 537.5V560.5 M1169.5 529.0V545.8 M1170.5 509.8V530.1 M1171.5 508.4V523.1 M1172.5 489.5V516.2 M1173.5 502.6V523.6 M1174.5 506.7V527.7 M1175.5 507.6V523.9 M1176.5 516.9V532.8 M1177.5 517.7V532.6 M1178.5 522.4V536.2 M1179.5 525.7V547.1 M1180.5 536.0V555.4 M1181.5 544.7V560.5 M1182.5 546.5V560.5 M1183.5 550.1V560.5 M1184.5 550.5V559.2 M1185.5 549.2V557.4 M1186.5 547.3V557.8 M1187.5 546.3V555.3 M1188.5 541.6V557.7 M1189.5 544.2V554.0 M1190.5 538.4V550.3 M1191.5 533.5V545.1 M1192.5 524.5V537.9 M1193.5 517.5V525.2 M1194.5 509.1V519.5 M1195.5 499.8V514.4 M1196.5 497.5V509.7 M1197.5 489.5V505.3 M1198.5 487.4V499.5 M1199.5 475.8V491.6 M1200.5 467.2V487.7 M1201.5 464.2V472.2 M1202.5 451.8V471.6 M1203.5 448.2V468.1 M1204.5 450.9V464.3 M1205.5 434.0V451.4 M1206.5 428.2V444.9 M1207.5 405.4V428.7 M1208.5 396.8V415.1 M1209.5 389.6V399.5 M1210.5 377.5V398.3 M1211.5 361.9V380.5 M1212.5 330.1V366.8 M1213.5 338.4V356.9 M1214.5 321.8V347.8 M1215.5 318.3V340.3 M1216.5 307.5V323.8 M1217.5 318.4V339.7 M1218.5 324.3V350.5 M1219.5 340.0V360.5 M1220.5 357.1V391.2 M1221.5 370.3V401.8 M1222.5 388.2V412.4 M1223.5 396.7V435.5 M1224.5 381.5V423.0 M1225.5 384.8V403.5 M1226.5 383.3V407.9 M1227.5 364.5V390.4 M1228.5 378.9V402.3 M1229.5 381.2V398.9 M1230.5 381.3V406.5 M1231.5 387.0V413.5 M1232.5 379.6V410.6 M1233.5 384.5V420.5 M1234.5 373.8V414.9 M1235.5 359.5V400.6 M1236.5 359.5V398.1 M1237.5 359.5V395.7 M1238.5 377.0V405.7 M1239.5 397.8V417.7 M1240.5 408.9V433.0 M1241.5 420.3V442.0 M1242.5 436.1V452.0 M1243.5 449.2V470.5 M1244.5 435.4V463.9 M1245.5 435.0V453.2 M1246.5 437.6V459.0 M1247.5 431.8V449.9 M1248.5 423.4V453.5 M1249.5 419.5V450.4 M1250.5 425.3V451.1 M1251.5 444.2V461.5 M1252.5 450.8V470.5 M1253.5 446.2V470.5 M1254.5 441.3V470.5 M1255.5 452.7V470.5 M1256.5 458.4V470.5 M1257.5 458.0V470.5 M1258.5 461.0V470.5 M1259.5 451.4V466.7 M1260.5 442.2V461.3 M1261.5 412.6V449.3 M1262.5 368.2V440.4 M1263.5 343.1V379.8 M1264.5 338.5V362.3 M1265.5 332.2V354.3 M1266.5 327.5V348.6 M1267.5 339.3V354.2 M1268.5 339.8V360.5 M1269.5 343.1V360.5 M1270.5 342.6V360.5 M1271.5 337.2V357.1 M1272.5 334.5V354.7 M1273.5 342.2V354.6 M1274.5 343.6V360.8 M1275.5 348.2V364.9 M1276.5 360.7V368.4 M1277.5 361.2V378.0 M1278.5 371.7V386.8 M1279.5 373.1V394.9 M1280.5 384.3V400.5 M1281.5 384.2V400.5 M1282.5 384.6V399.1 M1283.5 383.8V395.3 M1284.5 379.5V393.1 M1285.5 387.2V396.8 M1286.5 394.3V405.5 M1287.5 386.2V398.2 M1288.5 384.5V397.3 M1289.5 384.5V398.5 M1290.5 384.5V405.5 M1291.5 388.9V405.5 M1292.5 391.2V403.4 M1293.5 386.6V400.0 M1294.5 384.5V397.4 M1295.5 393.9V413.8 M1296.5 402.8V428.3 M1297.5 421.7V451.7 M1298.5 442.6V470.5 M1299.5 440.6V457.5 M1300.5 434.4V446.8 M1301.5 430.9V448.6 M1302.5 422.9V443.3 M1303.5 415.7V426.1 M1304.5 395.3V416.2 M1305.5 387.2V412.2 M1306.5 390.9V401.9 M1307.5 384.1V402.3 M1308.5 379.5V393.3 M1309.5 384.3V405.9 M1310.5 390.8V403.5 M1311.5 395.7V417.0 M1312.5 404.6V417.2 M1313.5 403.8V422.8 M1314.5 407.9V431.7 M1315.5 407.6V431.1 M1316.5 414.3V434.8 M1317.5 424.4V441.2 M1318.5 433.3V452.4 M1319.5 500.7V558.5 M1320.5 504.6V535.6 M1321.5 506.7V521.2 M1322.5 501.0V528.8 M1323.5 498.0V532.2 M1324.5 502.1V517.1 M1325.5 490.4V507.8 M1326.5 494.4V515.2 M1327.5 482.5V507.2 M1328.5 496.1V505.1 M1329.5 498.9V515.5 M1330.5 495.6V507.6 M1331.5 495.1V506.4 M1332.5 499.9V506.6 M1333.5 497.0V508.7 M1334.5 490.9V501.5 M1335.5 486.7V503.0 M1336.5 480.5V514.9 M1337.5 497.8V520.4 M1338.5 505.7V530.5 M1339.5 506.5V523.4 M1340.5 511.6V523.5 M1341.5 514.5V527.1 M1342.5 509.7V525.7 M1343.5 517.7V537.2 M1344.5 525.8V543.3 M1345.5 536.4V560.5 M1346.5 529.3V548.5 M1347.5 534.1V544.5 M1348.5 532.9V541.1 M1349.5 528.7V538.3 M1350.5 530.1V550.5 M1351.5 534.0V543.1 M1352.5 536.1V548.4 M1353.5 530.6V543.3 M1354.5 520.1V534.0 M1355.5 511.5V529.9 M1356.5 497.0V520.0 M1357.5 491.3V515.6 M1358.5 489.5V507.2 M1359.5 489.5V505.8 M1360.5 489.5V505.4 M1361.5 496.6V519.2 M1362.5 506.7V528.9 M1363.5 509.6V536.8 M1364.5 524.2V540.5 M1365.5 518.2V531.6 M1366.5 518.5V535.6 M1367.5 520.4V530.8 M1368.5 525.6V540.5 M1369.5 519.7V528.8 M1370.5 512.3V523.1 M1371.5 498.0V512.8 M1372.5 491.1V503.9 M1373.5 494.6V503.8 M1374.5 482.5V495.1 M1375.5 493.0V507.5 M1376.5 498.9V517.7 M1377.5 506.3V520.4 M1378.5 508.6V521.6 M1379.5 498.7V510.5 M1380.5 489.5V508.2 M1381.5 497.4V512.4 M1382.5 500.8V535.5 M1383.5 510.6V532.4 M1384.5 517.8V528.6 M1385.5 505.1V519.7 M1386.5 490.9V505.6 M1387.5 461.1V491.4 M1388.5 444.8V462.6 M1389.5 428.9V447.2 M1390.5 410.6V434.1 M1391.5 410.2V433.9 M1392.5 396.4V423.8 M1393.5 383.5V409.3 M1394.5 378.3V407.8 M1395.5 365.7V400.3 M1396.5 368.5V392.0 M1397.5 358.5V385.8 M1398.5 362.2V377.6 M1399.5 350.2V371.1 M1400.5 350.2V366.5 M1401.5 343.4V361.0 M1402.5 332.4V351.1 M1403.5 326.4V346.2 M1404.5 320.8V350.9 M1405.5 314.5V341.9 M1406.5 317.0V351.0 M1407.5 319.8V360.5 M1408.5 317.3V339.8 M1409.5 309.5V339.0 M1410.5 312.9V338.1 M1411.5 324.8V350.0 M1412.5 347.3V371.8 M1413.5 360.9V397.8 M1414.5 373.8V398.8 M1415.5 395.0V420.5 M1416.5 400.4V414.6 M1417.5 397.9V407.5 M1418.5 389.3V403.4 M1419.5 386.7V411.3 M1420.5 386.5V407.5 M1421.5 386.7V415.5 M1422.5 370.7V403.8 M1423.5 354.5V383.9 M1424.5 367.1V412.0 M1425.5 378.6V429.0 M1426.5 401.7V431.8 M1427.5 406.7V440.5 M1428.5 398.3V425.7 M1429.5 389.5V418.7 M1430.5 389.5V417.4 M1431.5 389.5V415.1 M1432.5 404.7V418.4 M1433.5 408.3V426.2 M1434.5 414.2V429.6 M1435.5 412.2V429.0 M1436.5 424.1V441.8 M1437.5 427.7V445.5 M1438.5 413.0V438.0 M1439.5 399.5V429.4 M1440.5 404.7V437.1 M1441.5 409.7V434.6 M1442.5 414.5V439.2 M1443.5 419.8V446.1 M1447.5 478.7V505.5 M1448.5 466.9V500.9 M1449.5 471.7V489.4 M1450.5 472.7V494.3 M1451.5 472.9V505.5 M1452.5 476.3V500.9 M1453.5 482.6V499.0 M1454.5 475.9V500.3 M1455.5 469.5V497.1 M1456.5 478.3V500.5 M1457.5 474.7V496.6 M1458.5 482.8V497.8 M1459.5 479.2V497.4 M1460.5 474.5V502.3 M1461.5 474.5V498.8 M1462.5 498.3V519.6 M1463.5 510.5V530.1 M1464.5 516.7V540.6 M1465.5 518.8V549.2 M1466.5 535.7V564.7 M1467.5 528.7V567.9 M1468.5 547.1V567.4 M1469.5 539.2V575.1 M1470.5 554.0V585.3 M1471.5 570.8V590.2 M1472.5 581.6V599.8 M1473.5 594.6V610.5 M1474.5 592.9V608.1 M1475.5 591.8V605.5 M1476.5 587.7V602.5 M1477.5 582.2V599.0 M1478.5 588.2V595.9 M1479.5 583.9V599.7 M1480.5 575.5V593.2 M1481.5 569.5V585.7 M1482.5 570.8V595.1 M1483.5 580.7V595.1 M1484.5 579.7V605.1 M1485.5 583.6V605.0 M1486.5 595.6V603.0 M1487.5 599.2V606.6 M1488.5 599.5V612.0 M1489.5 603.3V614.5 M1490.5 614.0V635.5 M1491.5 626.0V655.4 M1492.5 634.4V654.2 M1493.5 626.0V660.5 M1494.5 626.5V646.4 M1495.5 627.0V640.1 M1496.5 625.3V638.7 M1497.5 625.5V636.9 M1498.5 631.6V640.5 M1499.5 629.5V640.5 M1500.5 615.2V631.7 M1501.5 611.2V619.3 M1502.5 607.1V617.6 M1503.5 602.7V613.9 M1504.5 605.8V610.5 M1505.5 602.5V611.7 M1506.5 605.7V610.6 M1507.5 603.3V615.5 M1508.5 605.3V615.5 M1509.5 607.5V615.5 M1510.5 605.6V615.5 M1511.5 599.1V612.1 M1512.5 595.2V605.3 M1513.5 562.3V595.7 M1514.5 530.2V569.5 M1515.5 523.8V555.4 M1516.5 489.5V528.0 M1517.5 489.5V513.9 M1518.5 489.5V515.0 M1519.5 496.6V512.9 M1520.5 503.7V513.7 M1521.5 497.3V514.3 M1522.5 502.7V511.5 M1523.5 496.8V512.0 M1524.5 489.5V513.4 M1525.5 489.5V507.9 M1526.5 489.5V510.1 M1527.5 490.5V510.2 M1528.5 497.4V506.8 M1529.5 499.7V510.1 M1530.5 504.0V514.0 M1531.5 502.1V516.5 M1532.5 494.8V519.1 M1533.5 495.5V512.7 M1534.5 497.9V525.5 M1535.5 480.8V512.7 M1536.5 469.5V495.6 M1537.5 485.5V514.0 M1538.5 478.3V511.9 M1539.5 484.5V511.3 M1540.5 492.5V511.5 M1541.5 498.5V520.4 M1542.5 507.4V522.3 M1543.5 510.7V522.3 M1544.5 511.8V528.0 M1545.5 525.1V545.4 M1546.5 529.0V560.5 M1547.5 524.6V541.2 M1548.5 516.9V528.1 M1549.5 518.7V528.7 M1550.5 519.8V526.2 M1551.5 512.6V525.4 M1552.5 510.2V516.6 M1553.5 504.9V514.0 M1554.5 505.6V513.9 M1555.5 498.5V507.8 M1556.5 484.5V506.1 M1557.5 479.0V496.8 M1558.5 473.0V486.0 M1559.5 454.6V475.5 M1560.5 443.2V471.5 M1561.5 443.3V463.7 M1562.5 420.7V462.4 M1563.5 404.3V457.0 M1564.5 374.1V414.5 M1565.5 355.4V400.2 M1566.5 339.5V370.7 M1567.5 349.1V368.6 M1568.5 353.3V371.8 M1569.5 350.2V368.7 M1570.5 344.1V382.5 M1571.5 335.7V373.0 M1572.5 329.5V359.4 M1573.5 341.0V351.1 M1574.5 338.8V354.7 M1575.5 339.0V360.5 M1576.5 341.6V360.5 M1577.5 325.8V346.8 M1578.5 318.1V334.7 M1579.5 307.0V318.6 M1580.5 287.6V308.5 M1581.5 262.7V288.6 M1582.5 235.0V269.4 M1583.5 220.6V269.4 M1584.5 225.9V258.8 M1585.5 214.5V265.1 M1586.5 245.8V275.7 M1587.5 251.5V310.5 M1588.5 259.9V287.6 M1589.5 259.2V293.8 M1590.5 239.1V293.1 M1591.5 209.5V288.4 M1592.5 230.4V285.8 M1593.5 244.1V267.1 M1594.5 253.0V273.0 M1595.5 246.4V275.3 M1596.5 252.5V267.8 M1597.5 263.5V277.2 M1598.5 257.5V279.2 M1599.5 270.8V290.5 M1600.5 260.6V280.6 M1601.5 254.5V285.0 M1602.5 269.0V279.7 M1603.5 270.9V278.8 M1604.5 266.6V277.1 M1605.5 260.1V273.7 M1606.5 257.4V269.3 M1607.5 255.9V265.5 M1608.5 251.1V260.5 M1609.5 234.5V260.5 M1610.5 246.5V256.9 M1611.5 249.2V261.5 M1612.5 246.5V274.6 M1613.5 257.2V279.9 M1614.5 278.4V298.1 M1615.5 289.4V313.2 M1616.5 298.5V314.9 M1617.5 300.8V321.6 M1618.5 295.0V329.2 M1619.5 296.6V345.5 M1620.5 286.2V326.1 M1621.5 285.4V304.5 M1622.5 263.4V292.8 M1623.5 254.1V289.2 M1624.5 244.4V268.7 M1625.5 219.5V245.2 M1626.5 234.3V256.1 M1627.5 243.5V269.3 M1628.5 264.9V284.3 M1629.5 283.8V324.8 M1630.5 292.7V314.8 M1631.5 294.3V324.8 M1632.5 289.9V326.7 M1633.5 306.1V331.1 M1634.5 305.9V337.3 M1635.5 321.8V335.8 M1636.5 321.8V349.7 M1637.5 322.7V350.3 M1638.5 322.8V347.8 M1639.5 321.6V348.5 M1640.5 319.4V379.6 M1641.5 289.5V392.3 M1642.5 307.0V403.3 M1643.5 324.2V429.8 M1644.5 325.9V430.2 M1645.5 335.0V438.5 M1646.5 325.9V423.7 M1647.5 340.6V411.6 M1648.5 381.6V425.2 M1649.5 416.0V445.8 M1650.5 431.0V458.1 M1651.5 438.5V466.5 M1652.5 442.0V470.3 M1653.5 458.4V475.9 M1654.5 459.8V490.5 M1655.5 459.2V482.5 M1656.5 460.0V480.5 M1657.5 452.6V474.7 M1658.5 446.8V472.2 M1659.5 446.8V472.5 M1660.5 441.6V463.8 M1661.5 430.6V457.2 M1662.5 431.7V447.8 M1663.5 430.0V450.3 M1664.5 429.8V447.1 M1665.5 414.0V432.3 M1666.5 394.5V430.8 M1667.5 411.7V441.6 M1668.5 424.7V439.2 M1669.5 428.5V446.2 M1670.5 443.7V465.3 M1671.5 447.0V462.6 M1672.5 453.7V463.8 M1673.5 452.7V471.6 M1674.5 452.8V475.5 M1675.5 449.5V469.2 M1676.5 450.5V459.3 M1677.5 452.2V460.0 M1678.5 450.8V461.9 M1679.5 450.1V461.5 M1680.5 445.5V460.2 M1681.5 445.9V457.6 M1682.5 440.3V451.6 M1683.5 432.1V443.3 M1684.5 418.3V437.3 M1685.5 416.8V437.3 M1686.5 414.5V434.8 M1687.5 425.7V432.7 M1688.5 424.0V440.5 M1689.5 420.0V432.9 M1690.5 416.2V423.9 M1691.5 404.5V420.3 M1692.5 399.5V420.0 M1693.5 406.3V422.9 M1694.5 417.5V434.9 M1695.5 425.6V449.5 M1696.5 440.8V460.9 M1697.5 448.7V462.5 M1698.5 446.1V458.0 M1699.5 451.4V465.3 M1700.5 453.4V466.3 M1701.5 452.1V472.8 M1702.5 455.0V491.1 M1703.5 485.0V491.6 M1705.5 538.9V564.6 M1706.5 554.0V582.5 M1707.5 570.3V595.9 M1708.5 561.3V598.6 M1709.5 569.8V618.5 M1710.5 581.9V610.1 M1711.5 582.8V597.6 M1712.5 576.3V597.1 M1713.5 584.2V599.3 M1714.5 582.6V596.2 M1715.5 578.0V592.1 M1716.5 575.1V598.3 M1717.5 577.3V612.5 M1718.5 575.2V596.3 M1719.5 580.1V595.1 M1720.5 571.2V591.0 M1721.5 575.4V585.0 M1722.5 569.6V586.5 M1723.5 568.0V590.0 M1724.5 562.2V590.5 M1725.5 563.6V590.5 M1726.5 567.6V583.4 M1727.5 560.2V578.3 M1728.5 555.8V577.9 M1729.5 552.9V574.9 M1730.5 545.9V570.6 M1731.5 534.5V563.4 M1732.5 547.3V569.4 M1733.5 555.5V575.9 M1734.5 559.0V572.4 M1735.5 564.1V573.7 M1736.5 567.8V576.3 M1737.5 564.6V590.5 M1738.5 564.4V590.5 M1739.5 568.0V590.5 M1740.5 565.3V581.4 M1741.5 565.3V580.4 M1742.5 560.0V572.2 M1743.5 560.9V574.0 M1744.5 551.8V571.0 M1745.5 544.5V565.3 M1746.5 547.4V560.7 M1747.5 543.4V550.3 M1748.5 538.2V549.6 M1749.5 537.5V545.3 M1750.5 530.8V542.1 M1751.5 524.5V545.5 M1752.5 533.4V544.0 M1753.5 534.6V541.2 M1754.5 531.9V545.5 M1755.5 528.1V545.5 M1756.5 532.1V545.5 M1757.5 535.1V542.4 M1758.5 536.6V544.1 M1759.5 529.5V544.8 M1760.5 535.0V544.5 M1761.5 534.3V546.5" stroke="#000" stroke-width="1" fill="none" shape-rendering="crispEdges"/><path d="M18.5 808.1V810.0 M26.5 817.3V820.1 M30.5 816.9V819.8 M43.5 821.8V822.7 M45.5 820.0V822.4 M50.5 821.3V823.2 M55.5 822.2V823.5 M60.5 821.7V823.0 M62.5 821.2V822.6 M68.5 817.0V819.8 M69.5 819.4V821.0 M72.5 824.5V826.1 M77.5 820.9V824.1 M79.5 822.4V824.0 M87.5 822.1V823.1 M95.5 821.6V823.1 M99.5 819.6V820.9 M102.5 820.7V823.7 M121.5 826.0V827.9 M125.5 825.6V828.6 M129.5 827.9V832.0 M133.5 828.9V831.1 M138.5 828.5V829.3 M144.5 824.4V826.3 M149.5 823.9V825.5 M155.5 822.2V824.6 M156.5 822.4V825.0 M160.5 820.3V822.1 M163.5 816.9V818.5 M169.5 809.8V811.0 M176.5 814.4V815.1 M179.5 814.4V816.8 M180.5 814.8V818.1 M181.5 816.8V818.4 M185.5 816.6V818.5 M188.5 822.5V824.3 M189.5 825.1V828.6 M194.5 827.2V828.3 M202.5 825.2V826.6 M206.5 821.2V826.1 M213.5 823.9V826.1 M216.5 824.4V826.6 M217.5 822.8V824.4 M219.5 820.9V823.4 M221.5 820.3V823.4 M225.5 817.5V818.6 M238.5 819.5V820.6 M239.5 819.6V820.7 M248.5 813.5V814.6 M257.5 814.9V816.0 M277.5 815.5V816.3 M282.5 810.6V813.8 M283.5 807.3V811.0 M286.5 800.6V803.6 M316.5 799.3V801.4 M317.5 796.3V799.6 M323.5 800.5V802.9 M324.5 800.1V801.6 M326.5 802.3V804.4 M327.5 799.5V800.8 M334.5 800.1V801.8 M335.5 799.0V800.0 M338.5 793.1V795.8 M355.5 785.6V787.4 M357.5 784.5V786.1 M358.5 783.5V784.9 M361.5 781.5V783.4 M394.5 752.3V753.7 M396.5 746.9V749.2 M410.5 662.6V674.9 M411.5 656.8V670.9 M415.5 673.4V677.1 M421.5 621.1V626.6 M424.5 608.5V617.9 M425.5 608.0V613.5 M428.5 605.5V614.0 M430.5 590.5V599.5 M438.5 637.0V646.1 M439.5 631.4V638.9 M447.5 606.2V615.7 M449.5 610.9V619.4 M450.5 611.2V622.1 M454.5 629.3V639.7 M459.5 583.9V590.4 M477.5 490.6V507.3 M481.5 391.6V428.5 M487.5 290.3V309.4 M493.5 495.8V550.3 M494.5 491.9V557.8 M496.5 472.9V538.3 M498.5 502.6V542.5 M507.5 520.8V557.0 M511.5 529.7V545.6 M519.5 572.9V581.0 M529.5 566.6V580.5 M533.5 586.4V599.4 M534.5 590.1V607.2 M538.5 570.1V576.4 M540.5 545.8V556.4 M544.5 517.8V535.3 M547.5 472.5V479.6 M555.5 420.9V429.7 M558.5 413.8V421.0 M563.5 376.9V400.3 M574.5 438.0V457.8 M575.5 409.3V438.3 M576.5 376.3V431.7 M578.5 405.3V436.0 M579.5 421.0V439.6 M580.5 448.9V464.5 M583.5 441.6V475.9 M591.5 435.5V450.5 M595.5 363.3V395.2 M599.5 350.2V361.7 M607.5 295.2V302.9 M621.5 267.8V292.5 M634.5 265.2V300.3 M635.5 302.7V314.3 M639.5 317.3V336.4 M642.5 318.9V326.3 M652.5 351.1V382.2 M654.5 381.5V402.4 M664.5 443.1V474.8 M666.5 478.4V487.7 M669.5 502.2V528.4 M671.5 509.1V521.8 M681.5 449.0V456.0 M686.5 448.2V482.5 M688.5 478.4V507.4 M693.5 471.8V489.2 M696.5 464.2V493.7 M697.5 488.1V508.7 M702.5 484.5V499.9 M706.5 462.7V468.2 M710.5 427.3V441.3 M715.5 401.0V407.9 M717.5 387.9V398.1 M718.5 393.3V408.3 M720.5 414.1V429.2 M723.5 432.4V445.8 M731.5 459.0V466.9 M732.5 460.0V471.0 M733.5 461.2V471.3 M735.5 465.9V474.9 M740.5 483.5V497.2 M744.5 556.0V568.7 M746.5 581.5V614.4 M748.5 582.6V600.4 M752.5 592.8V600.8 M762.5 598.4V612.1 M763.5 607.7V618.9 M767.5 659.3V680.6 M773.5 698.0V710.1 M775.5 696.8V702.1 M781.5 696.1V709.0 M784.5 696.9V703.1 M788.5 693.3V702.9 M799.5 622.8V643.1 M807.5 607.7V612.8 M809.5 599.8V608.9 M814.5 600.7V617.9 M818.5 623.4V638.9 M820.5 636.2V639.8 M821.5 631.5V636.8 M826.5 639.3V648.8 M830.5 634.5V641.7 M836.5 636.1V644.9 M837.5 654.3V663.2 M839.5 661.8V673.2 M845.5 672.7V678.2 M846.5 671.0V676.3 M849.5 671.6V676.6 M863.5 645.4V650.5 M865.5 640.1V645.5 M869.5 631.9V638.6 M872.5 665.1V677.0 M877.5 682.2V689.8 M878.5 683.6V689.6 M881.5 691.2V697.0 M904.5 687.5V689.2 M905.5 687.1V688.5 M920.5 645.2V655.0 M921.5 635.5V641.6 M926.5 633.2V639.6 M930.5 633.9V637.4 M931.5 631.5V637.7 M932.5 630.9V636.8 M935.5 625.5V627.7 M940.5 642.7V648.4 M944.5 621.8V625.1 M950.5 633.2V635.5 M953.5 629.7V633.2 M954.5 632.8V635.6 M957.5 640.3V643.8 M959.5 658.5V662.9 M960.5 628.6V646.7 M961.5 619.4V627.1 M962.5 616.5V625.4 M967.5 614.9V618.4 M970.5 609.6V613.0 M971.5 605.4V610.8 M973.5 601.9V607.6 M975.5 600.0V605.1 M976.5 597.1V602.8 M979.5 594.4V599.5 M981.5 586.9V592.1 M982.5 576.4V590.6 M983.5 571.2V585.4 M985.5 584.9V592.4 M991.5 597.9V600.1 M993.5 593.3V598.3 M1002.5 603.7V611.6 M1005.5 604.3V610.2 M1012.5 596.2V601.5 M1015.5 599.8V603.2 M1018.5 601.0V604.4 M1021.5 604.8V610.7 M1023.5 616.5V618.5 M1030.5 597.1V603.7 M1032.5 597.9V601.2 M1033.5 594.8V601.4 M1037.5 590.8V597.9 M1040.5 597.0V599.6 M1045.5 589.2V593.9 M1048.5 587.7V596.2 M1054.5 599.1V601.6 M1062.5 602.5V606.6 M1065.5 607.7V608.9 M1072.5 622.9V631.6 M1075.5 627.3V631.3 M1076.5 629.8V634.2 M1078.5 622.1V626.3 M1080.5 631.0V634.7 M1084.5 631.0V635.9 M1086.5 637.4V639.3 M1089.5 634.5V639.0 M1092.5 631.5V634.3 M1100.5 624.8V628.6 M1101.5 626.3V629.2 M1102.5 627.9V632.0 M1106.5 637.2V638.8 M1108.5 638.8V643.1 M1113.5 636.7V639.8 M1130.5 579.1V583.8 M1132.5 582.7V587.7 M1134.5 577.7V582.3 M1135.5 576.8V583.1 M1141.5 557.6V567.1 M1152.5 544.1V559.8 M1156.5 541.5V550.8 M1171.5 513.1V521.6 M1178.5 525.9V534.0 M1181.5 547.4V559.0 M1183.5 552.5V558.9 M1188.5 547.1V555.0 M1193.5 520.1V524.8 M1194.5 512.2V516.6 M1195.5 505.7V509.6 M1198.5 491.7V498.8 M1199.5 478.9V487.5 M1211.5 365.1V373.2 M1213.5 342.7V351.9 M1220.5 362.9V385.4 M1221.5 376.4V399.0 M1222.5 389.5V410.4 M1223.5 410.3V431.9 M1227.5 374.8V384.6 M1230.5 388.9V398.8 M1237.5 361.6V387.6 M1238.5 380.9V401.0 M1240.5 417.0V424.3 M1242.5 436.9V446.5 M1245.5 438.4V451.7 M1247.5 434.2V448.0 M1248.5 427.2V445.8 M1254.5 450.8V466.8 M1260.5 443.3V456.6 M1267.5 341.2V349.3 M1270.5 344.5V356.5 M1272.5 337.4V347.2 M1274.5 347.5V356.4 M1276.5 362.1V366.8 M1279.5 379.9V390.5 M1280.5 385.6V399.3 M1283.5 385.4V392.2 M1284.5 384.0V388.8 M1285.5 389.7V394.2 M1290.5 391.4V400.4 M1291.5 393.1V399.7 M1293.5 389.6V397.8 M1295.5 400.3V409.3 M1298.5 447.6V461.4 M1305.5 394.7V402.9 M1307.5 385.4V397.8 M1308.5 383.0V391.7 M1315.5 414.5V424.8 M1316.5 417.6V427.7 M1321.5 511.9V517.0 M1324.5 504.7V516.0 M1326.5 502.4V509.4 M1345.5 538.8V557.7 M1346.5 531.2V542.9 M1350.5 532.0V544.6 M1357.5 493.2V508.4 M1362.5 512.2V527.7 M1365.5 520.7V530.6 M1379.5 501.3V507.0 M1380.5 496.7V505.4 M1382.5 506.2V522.8 M1385.5 508.0V517.5 M1389.5 430.1V441.4 M1390.5 415.6V430.1 M1391.5 419.0V425.3 M1393.5 392.4V403.4 M1397.5 368.4V380.9 M1401.5 349.2V355.9 M1406.5 321.8V339.5 M1410.5 320.5V334.1 M1424.5 371.3V404.6 M1425.5 395.3V411.6 M1427.5 409.5V431.2 M1428.5 408.1V418.3 M1431.5 390.8V409.1 M1437.5 433.6V442.0 M1439.5 403.1V424.3 M1440.5 414.1V431.8 M1443.5 426.6V444.1 M1448.5 479.5V489.8 M1452.5 483.8V499.4 M1454.5 484.3V491.4 M1457.5 478.2V489.8 M1465.5 524.8V540.6 M1466.5 546.3V553.8 M1469.5 544.7V566.7 M1470.5 560.8V579.7 M1476.5 590.3V598.0 M1478.5 590.7V593.8 M1484.5 586.7V600.8 M1486.5 598.0V601.3 M1493.5 630.5V658.6 M1495.5 631.7V639.3 M1497.5 628.7V632.8 M1505.5 605.9V608.2 M1507.5 606.3V613.8 M1512.5 599.0V603.3 M1524.5 498.9V508.0 M1533.5 499.0V510.1 M1534.5 500.3V521.1 M1536.5 476.4V486.2 M1540.5 500.1V507.7 M1544.5 518.2V525.5 M1551.5 517.3V522.2 M1553.5 506.9V511.9 M1560.5 454.4V462.2 M1563.5 416.9V448.3 M1566.5 351.7V362.4 M1567.5 354.3V364.8 M1568.5 354.9V369.1 M1570.5 353.8V370.9 M1576.5 344.9V354.3 M1577.5 330.4V344.4 M1579.5 309.5V314.1 M1580.5 293.7V303.7 M1587.5 272.1V296.1 M1588.5 264.5V284.7 M1590.5 244.6V282.8 M1596.5 255.2V265.5 M1600.5 266.4V274.3 M1601.5 265.1V279.0 M1615.5 298.4V311.1 M1617.5 304.2V314.1 M1618.5 297.9V317.4 M1619.5 313.2V330.0 M1621.5 287.3V299.0 M1624.5 248.6V262.3 M1631.5 297.6V320.2 M1636.5 331.9V341.8 M1644.5 351.3V405.1 M1660.5 446.0V456.0 M1673.5 455.8V467.5 M1675.5 450.7V462.6 M1676.5 452.7V456.2 M1679.5 452.7V458.2 M1686.5 420.6V429.9 M1689.5 424.9V428.8 M1693.5 407.3V419.5 M1696.5 444.8V458.3 M1709.5 577.5V606.6 M1711.5 586.7V593.5 M1715.5 581.1V590.7 M1717.5 589.7V606.2 M1718.5 579.3V588.8 M1719.5 584.3V591.5 M1720.5 577.5V588.7 M1721.5 576.3V582.2 M1723.5 573.4V582.9 M1727.5 564.5V573.9 M1739.5 576.7V588.9 M1745.5 547.2V561.2 M1746.5 550.9V555.5 M1749.5 538.6V542.5 M1753.5 535.6V540.4 M1760.5 537.2V542.0" stroke="#ff0000" stroke-width="1" fill="none" shape-rendering="crispEdges"/><line x1="188" y1="261.3" x2="1832" y2="51.4" stroke="#8000ff" stroke-width="1" shape-rendering="crispEdges"/><line x1="188" y1="832.5" x2="1832" y2="617.6" stroke="#8000ff" stroke-width="1" shape-rendering="crispEdges"/><line x1="1213" y1="309.5" x2="1837" y2="139.2" stroke="#008000" stroke-width="1" shape-rendering="crispEdges"/><line x1="1213" y1="738" x2="1837" y2="567.5" stroke="#008000" stroke-width="1" shape-rendering="crispEdges"/><line x1="895" y1="665" x2="1307" y2="209" stroke="#00ff00" stroke-width="1" shape-rendering="crispEdges"/><line x1="938" y1="839" x2="1308" y2="432" stroke="#00ff00" stroke-width="1" shape-rendering="crispEdges"/><line x1="872" y1="597" x2="1215" y2="506" stroke="#00ffff" stroke-width="1" shape-rendering="crispEdges"/><line x1="872" y1="710" x2="1215" y2="616.5" stroke="#00ffff" stroke-width="1" shape-rendering="crispEdges"/><line x1="1517" y1="484" x2="1607" y2="133" stroke="#008000" stroke-width="1" shape-rendering="crispEdges"/><line x1="1519" y1="678.2" x2="1607" y2="331" stroke="#008000" stroke-width="1" shape-rendering="crispEdges"/><line x1="1493.7" y1="665.6" x2="1579.1" y2="493.7" stroke="#00ff00" stroke-width="2" shape-rendering="crispEdges"/><line x1="1493.7" y1="534.4" x2="1579" y2="363.5" stroke="#00ff00" stroke-width="2" shape-rendering="crispEdges"/><rect x="5" y="860" width="1832" height="1" fill="#000"/><rect x="5" y="885" width="1832" height="1" fill="#000"/><rect x="5" y="911" width="1832" height="1" fill="#000"/><path d="M17.7 899.6 L19.3 897.5 L22.4 913.2 L28.2 905.8 L32.4 882.9 L34.4 880.8 L37.1 868.8 L39.1 872.4 L42.8 916.3 L48.5 893.3 L51.1 897.5 L53.8 907.9 L58.5 896.5 L62.6 882.9 L65.2 858.9 L68.4 850.5 L72.0 881.8 L74.1 906.9 L80.4 881.8 L83.5 862.5 L86.6 885.0 L92.4 912.1 L97.6 858.4 L101.8 858.4 L105.4 869.3 L112.2 915.2 L118.0 896.5 L123.7 890.7 L129.4 915.2 L135.2 897.5 L139.4 890.2 L141.4 861.0 L144.6 861.5 L150.3 853.7 L156.1 862.5 L159.7 852.6 L162.8 852.6 L169.6 848.4 L176.4 881.8 L180.6 910.0 L186.8 903.8 L190.5 914.2 L194.2 905.8 L195.0 901.7 L198.1 879.8 L200.2 873.5 L202.3 879.2 L204.9 874.5 L207.0 853.7 L208.6 856.8 L212.2 874.0 L214.8 871.4 L221.1 848.4 L226.3 872.4 L229.4 889.1 L233.6 893.8 L235.2 867.7 L238.8 864.1 L241.5 879.2 L246.7 856.8 L249.3 858.4 L252.4 862.0 L256.6 892.3 L258.7 893.8 L261.8 878.7 L267.0 907.9 L272.8 863.6 L274.3 866.2 L278.5 893.3 L282.7 851.6 L285.8 847.9 L290.5 845.8 L295.7 862.5 L299.4 855.7 L302.0 859.9 L307.2 904.3 L310.3 875.6 L315.6 914.2 L323.9 879.8 L327.0 903.2 L333.3 879.8 L336.4 886.0 L340.1 859.4 L343.2 871.9 L347.9 861.5 L353.1 898.0 L358.9 850.5 L363.1 851.0 L366.2 856.3 L371.9 874.0 L376.6 862.0 L382.4 890.2 L387.1 861.5 L391.1 888.1 L394.2 863.1 L396.3 849.5 L397.8 854.7 L400.4 851.6 L403.6 858.9 L406.7 872.4 L408.8 857.3 L410.9 864.1 L413.5 878.2 L417.7 860.4 L421.3 848.4 L424.4 850.5 L427.6 853.7 L430.7 853.7 L433.8 886.0 L437.5 909.0 L440.1 907.9 L445.3 852.6 L448.5 858.9 L451.6 867.2 L455.2 915.2 L459.4 853.7 L462.0 845.3 L467.2 857.8 L470.4 848.4 L475.6 880.3 L480.3 846.4 L486.6 849.5 L490.2 863.1 L494.4 908.5 L499.6 900.6 L505.3 868.3 L509.0 896.5 L516.3 919.4 L520.5 911.1 L527.3 861.5 L535.6 919.4 L540.3 890.2 L544.5 856.8 L551.8 846.4 L559.1 871.9 L563.8 873.5 L569.0 848.4 L573.7 900.6 L577.9 895.4 L583.6 904.3 L587.1 903.8 L589.7 885.0 L592.3 845.8 L597.5 855.2 L601.2 852.6 L604.3 863.6 L606.9 868.3 L611.6 851.6 L615.3 853.7 L618.4 856.8 L623.6 912.1 L626.8 894.4 L631.5 867.7 L640.3 910.0 L648.7 867.2 L653.4 914.2 L658.1 912.1 L664.3 896.5 L671.6 912.1 L681.0 850.5 L690.4 918.4 L696.7 868.3 L703.0 902.2 L710.8 848.4 L718.6 855.7 L725.9 917.3 L732.2 891.8 L738.4 909.0 L744.7 919.9 L754.1 897.5 L761.4 894.4 L768.7 918.4 L773.4 920.5 L779.2 882.9 L781.9 896.2 L785.2 864.6 L789.9 886.0 L794.6 848.4 L798.3 860.4 L801.9 862.0 L805.1 870.9 L810.3 852.6 L814.4 860.4 L820.2 910.0 L825.9 903.8 L831.7 861.0 L838.5 920.5 L842.6 916.3 L848.4 874.5 L853.6 898.0 L857.2 878.2 L864.6 853.7 L870.8 863.1 L875.5 907.9 L881.8 909.0 L890.6 851.6 L895.3 870.4 L897.4 863.6 L902.7 912.1 L906.3 901.7 L910.5 897.5 L919.9 846.4 L927.2 854.2 L931.4 874.0 L935.5 867.7 L940.8 909.0 L945.4 861.0 L951.2 886.0 L957.5 922.6 L963.7 859.4 L967.4 853.7 L972.1 877.1 L976.9 858.6 L981.3 863.1 L983.4 852.6 L985.4 851.6 L987.5 877.7 L991.7 914.2 L998.5 883.9 L1002.7 913.2 L1009.4 885.0 L1017.3 863.6 L1026.1 916.3 L1034.5 855.7 L1041.8 864.1 L1045.5 900.6 L1048.6 887.6 L1052.2 891.2 L1056.4 914.2 L1061.6 903.8 L1063.2 909.0 L1067.4 876.6 L1071.0 906.9 L1077.8 905.8 L1082.0 890.7 L1087.2 913.2 L1094.0 865.1 L1099.2 902.7 L1104.4 878.7 L1111.7 918.9 L1120.1 858.4 L1125.3 857.8 L1129.5 858.9 L1131.6 851.6 L1134.2 856.3 L1138.4 886.0 L1142.0 871.4 L1145.1 875.6 L1150.4 852.6 L1159.8 899.6 L1164.5 865.7 L1170.2 897.5 L1172.6 894.4 L1175.2 864.6 L1177.3 863.1 L1182.5 900.6 L1185.7 919.4 L1194.5 859.9 L1196.6 847.9 L1202.4 847.9 L1207.6 850.5 L1211.8 858.9 L1217.0 851.0 L1219.1 855.7 L1223.2 905.8 L1230.5 873.5 L1234.7 900.6 L1238.4 878.7 L1243.1 918.4 L1250.4 881.8 L1256.6 892.8 L1258.7 890.2 L1262.9 907.9 L1268.6 848.4 L1274.4 857.8 L1284.3 915.2 L1290.6 894.9 L1295.8 890.7 L1300.5 907.4 L1308.8 851.6 L1311.4 856.3 L1321.4 912.1 L1332.8 875.6 L1343.8 912.1 L1357.4 853.7 L1364.2 908.5 L1368.1 898.5 L1372.3 857.3 L1374.9 862.5 L1378.6 899.6 L1382.2 893.8 L1384.3 905.8 L1389.5 848.4 L1395.3 875.6 L1398.4 875.1 L1401.5 858.4 L1404.7 854.7 L1408.3 857.8 L1412.5 881.8 L1414.6 870.4 L1418.8 900.6 L1425.5 901.2 L1428.7 871.4 L1432.8 912.1 L1440.2 873.5 L1445.4 900.6 L1448.5 892.3 L1453.7 907.4 L1460.5 883.4 L1468.3 915.2 L1473.6 911.1 L1475.6 914.2 L1479.3 909.0 L1485.6 864.6 L1493.4 913.2 L1503.8 860.4 L1506.4 852.6 L1510.1 852.6 L1513.2 864.1 L1518.4 853.7 L1521.6 855.2 L1526.8 872.4 L1532.0 872.4 L1535.1 902.7 L1539.8 872.4 L1546.6 911.1 L1554.5 862.5 L1561.2 847.9 L1564.2 847.4 L1569.4 853.7 L1574.6 862.0 L1577.2 898.5 L1582.4 849.5 L1588.7 880.8 L1593.7 871.4 L1601.8 909.0 L1608.0 866.7 L1614.3 916.3 L1622.1 856.8 L1627.8 911.1 L1632.0 913.2 L1637.8 886.5 L1643.0 912.1 L1647.7 897.5 L1653.4 916.3 L1662.8 863.6 L1665.4 858.9 L1668.6 863.1 L1673.3 917.3 L1685.3 857.8 L1689.4 878.2 L1694.7 863.6 L1698.8 914.2 L1700.0 906.8 L1702.0 906.9 L1704.0 907.8 L1707.1 919.2 L1713.2 908.9 L1717.2 888.9 L1720.5 904.3 L1724.3 872.4 L1725.4 871.9 L1727.3 871.4 L1731.3 888.1 L1734.6 865.0 L1738.5 885.6 L1743.4 909.2 L1748.6 873.4 L1753.6 852.7 L1756.7 852.7 L1763.3 883.0" stroke="#000" stroke-width="1" fill="none" shape-rendering="crispEdges"/><path d="M20.7 900.1 L21.4 901.3 L22.2 903.0 L22.9 904.9 L23.6 906.8 L24.3 908.7 L25.0 910.0 L25.7 910.6 L26.4 910.6 L27.1 909.9 L27.8 909.0 L28.5 908.0 L29.2 906.4 L29.9 904.5 L30.6 902.1 L31.3 899.4 L32.0 896.1 L32.7 892.7 L33.4 889.6 L34.1 886.8 L34.8 884.3 L35.5 881.9 L36.2 879.6 L37.0 877.4 L37.7 875.6 L38.4 874.1 L39.1 872.8 L39.8 873.0 L40.5 874.8 L41.2 878.2 L41.9 883.4 L42.6 889.7 L43.3 895.8 L44.0 901.4 L44.7 905.5 L45.4 908.0 L46.1 908.9 L46.8 908.2 L47.5 905.9 L48.2 903.0 L48.9 900.5 L49.6 898.6 L50.3 897.2 L51.0 896.4 L51.7 896.3 L52.5 897.1 L53.2 898.7 L53.9 900.6 L54.6 902.2 L55.3 903.3 L56.0 904.1 L56.7 904.2 L57.4 903.7 L58.1 902.5 L58.8 900.8 L59.5 898.9 L60.2 897.0 L60.9 895.0 L61.6 892.9 L62.3 890.7 L63.0 888.2 L63.7 884.9 L64.4 881.1 L65.1 876.7 L65.8 872.2 L66.5 867.8 L67.2 863.5 L68.0 859.5 L68.7 856.7 L69.4 855.7 L70.1 856.4 L70.8 858.4 L71.5 861.5 L72.2 865.8 L72.9 871.6 L73.6 878.4 L74.3 885.1 L75.0 890.6 L75.7 894.8 L76.4 897.8 L77.1 899.3 L77.8 899.3 L78.5 897.7 L79.2 894.9 L79.9 892.1 L80.6 889.2 L81.3 886.1 L82.0 882.7 L82.8 879.2 L83.5 875.4 L84.2 872.6 L84.9 871.0 L85.6 870.6 L86.3 871.5 L87.0 873.7 L87.7 876.9 L88.4 881.3 L89.1 885.5 L89.8 889.4 L90.5 893.1 L91.2 896.6 L91.9 899.9 L92.6 902.7 L93.3 904.0 L94.0 903.8 L94.7 902.1 L95.4 898.9 L96.1 894.2 L96.8 887.9 L97.5 880.7 L98.3 874.4 L99.0 869.1 L99.7 864.9 L100.4 861.7 L101.1 859.5 L101.8 858.4 L102.5 858.7 L103.2 859.3 L103.9 860.2 L104.6 861.4 L105.3 862.9 L106.0 865.0 L106.7 867.8 L107.4 871.0 L108.1 874.5 L108.8 878.5 L109.5 882.8 L110.2 887.5 L110.9 892.3 L111.6 897.0 L112.3 901.6 L113.0 905.2 L113.8 907.8 L114.5 909.3 L115.2 909.9 L115.9 909.4 L116.6 907.9 L117.3 905.6 L118.0 903.3 L118.7 901.2 L119.4 899.4 L120.1 897.8 L120.8 896.4 L121.5 895.2 L122.2 894.3 L122.9 893.6 L123.6 892.9 L124.3 892.7 L125.0 893.0 L125.7 893.8 L126.4 895.2 L127.1 897.0 L127.8 899.5 L128.5 902.4 L129.3 905.4 L130.0 907.9 L130.7 909.6 L131.4 910.6 L132.1 910.8 L132.8 910.3 L133.5 909.1 L134.2 907.1 L134.9 904.9 L135.6 902.8 L136.3 900.9 L137.0 899.0 L137.7 897.3 L138.4 895.8 L139.1 894.4 L139.8 892.2 L140.5 889.0 L141.2 884.4 L141.9 879.7 L142.6 875.1 L143.3 870.8 L144.1 866.6 L144.8 863.4 L145.5 861.5 L146.2 860.8 L146.9 860.4 L147.6 859.9 L148.3 859.2 L149.0 858.4 L149.7 857.4 L150.4 856.5 L151.1 855.8 L151.8 855.5 L152.5 855.4 L153.2 855.7 L153.9 856.2 L154.6 857.0 L155.3 858.1 L156.0 859.2 L156.7 859.9 L157.4 860.1 L158.1 860.0 L158.8 859.4 L159.6 858.3 L160.3 857.1 L161.0 855.6 L161.7 854.5 L162.4 853.6 L163.1 853.0 L163.8 852.6 L164.5 852.4 L165.2 852.2 L165.9 851.9 L166.6 851.6 L167.3 851.2 L168.0 850.7 L168.7 850.3 L169.4 849.9 L170.1 849.8 L170.8 850.3 L171.5 851.4 L172.2 853.0 L172.9 855.2 L173.6 858.0 L174.3 861.3 L175.1 864.8 L175.8 868.2 L176.5 871.7 L177.2 875.4 L177.9 879.2 L178.6 883.3 L179.3 887.5 L180.0 891.9 L180.7 896.3 L181.4 900.2 L182.1 903.3 L182.8 905.6 L183.5 907.1 L184.2 907.8 L184.9 907.8 L185.6 907.1 L186.3 906.4 L187.0 905.8 L187.7 905.6 L188.4 905.8 L189.1 906.3 L189.8 907.3 L190.6 908.6 L191.3 909.7 L192.0 910.7 L192.7 911.1 L193.4 911.0 L194.1 910.4 L194.8 909.0 L195.5 906.8 L196.2 904.0 L196.9 900.8 L197.6 897.1 L198.3 893.1 L199.0 888.9 L199.7 885.0 L200.4 881.5 L201.1 879.0 L201.8 877.5 L202.5 876.9 L203.2 876.6 L203.9 876.5 L204.6 876.5 L205.4 876.0 L206.1 874.1 L206.8 871.0 L207.5 867.6 L208.2 864.5 L208.9 861.9 L209.6 860.0 L210.3 859.2 L211.0 859.9 L211.7 862.1 L212.4 864.9 L213.1 867.3 L213.8 869.4 L214.5 870.8 L215.2 871.5 L215.9 871.4 L216.6 870.5 L217.3 868.8 L218.0 866.9 L218.7 864.7 L219.4 862.3 L220.1 859.7 L220.9 857.1 L221.6 855.0 L222.3 853.8 L223.0 853.5 L223.7 853.9 L224.4 855.2 L225.1 857.3 L225.8 860.3 L226.5 863.5 L227.2 866.9 L227.9 870.3 L228.6 873.8 L229.3 877.3 L230.0 880.6 L230.7 883.5 L231.4 886.1 L232.1 888.3 L232.8 890.0 L233.5 891.3 L234.2 890.6 L234.9 888.0 L235.6 884.7 L236.4 881.2 L237.1 877.4 L237.8 873.4 L238.5 869.3 L239.2 866.7 L239.9 866.5 L240.6 867.5 L241.3 869.2 L242.0 870.7 L242.7 872.0 L243.4 872.9 L244.1 873.1 L244.8 872.4 L245.5 870.6 L246.2 867.8 L246.9 865.0 L247.6 862.6 L248.3 860.7 L249.0 859.4 L249.7 858.5 L250.4 858.2 L251.1 858.5 L251.9 859.1 L252.6 859.9 L253.3 861.4 L254.0 863.6 L254.7 866.4 L255.4 869.8 L256.1 873.8 L256.8 878.2 L257.5 882.5 L258.2 886.1 L258.9 888.9 L259.6 890.4 L260.3 890.8 L261.0 889.9 L261.7 888.0 L262.4 886.5 L263.1 885.4 L263.8 885.0 L264.5 885.7 L265.2 887.4 L265.9 890.2 L266.7 894.0 L267.4 897.3 L268.1 899.3 L268.8 899.9 L269.5 899.2 L270.2 897.2 L270.9 893.8 L271.6 889.1 L272.3 883.6 L273.0 878.5 L273.7 874.3 L274.4 871.1 L275.1 869.3 L275.8 869.0 L276.5 870.1 L277.2 872.6 L277.9 876.2 L278.6 880.1 L279.3 882.7 L280.0 883.7 L280.7 883.0 L281.4 880.7 L282.2 876.6 L282.9 871.2 L283.6 865.3 L284.3 860.2 L285.0 856.0 L285.7 852.8 L286.4 850.5 L287.1 849.1 L287.8 848.5 L288.5 847.9 L289.2 847.5 L289.9 847.1 L290.6 846.8 L291.3 846.9 L292.0 847.3 L292.7 848.2 L293.4 849.4 L294.1 851.0 L294.8 852.9 L295.5 855.2 L296.2 857.0 L296.9 858.4 L297.7 859.3 L298.4 859.6 L299.1 859.5 L299.8 859.0 L300.5 858.4 L301.2 858.0 L301.9 857.9 L302.6 858.7 L303.3 860.6 L304.0 863.6 L304.7 867.4 L305.4 871.9 L306.1 877.0 L306.8 882.9 L307.5 888.1 L308.2 891.6 L308.9 893.2 L309.6 893.1 L310.3 891.2 L311.0 889.2 L311.7 887.1 L312.4 885.6 L313.2 885.8 L313.9 887.7 L314.6 891.2 L315.3 896.4 L316.0 900.9 L316.7 904.3 L317.4 906.5 L318.1 907.6 L318.8 907.5 L319.5 906.2 L320.2 903.8 L320.9 900.9 L321.6 898.0 L322.3 895.1 L323.0 892.2 L323.7 889.3 L324.4 887.2 L325.1 886.3 L325.8 886.6 L326.5 888.1 L327.2 890.4 L328.0 892.7 L328.7 895.1 L329.4 896.7 L330.1 897.1 L330.8 896.4 L331.5 894.6 L332.2 891.9 L332.9 889.3 L333.6 886.9 L334.3 885.0 L335.0 883.8 L335.7 883.1 L336.4 883.0 L337.1 882.6 L337.8 881.8 L338.5 880.5 L339.2 878.2 L339.9 875.0 L340.6 871.7 L341.3 868.6 L342.0 866.6 L342.7 865.8 L343.5 865.8 L344.2 866.4 L344.9 867.5 L345.6 868.3 L346.3 868.4 L347.0 867.9 L347.7 866.7 L348.4 865.8 L349.1 865.7 L349.8 866.6 L350.5 868.5 L351.2 871.2 L351.9 874.9 L352.6 879.5 L353.3 884.1 L354.0 887.1 L354.7 888.6 L355.4 888.5 L356.1 886.9 L356.8 883.8 L357.5 879.1 L358.2 873.3 L359.0 867.5 L359.7 862.6 L360.4 858.6 L361.1 855.4 L361.8 853.0 L362.5 851.5 L363.2 850.8 L363.9 851.1 L364.6 851.5 L365.3 852.1 L366.0 852.8 L366.7 853.8 L367.4 855.1 L368.1 856.7 L368.8 858.4 L369.5 860.3 L370.2 862.3 L370.9 864.4 L371.6 866.6 L372.3 868.4 L373.0 869.7 L373.7 870.4 L374.5 870.5 L375.2 870.1 L375.9 869.1 L376.6 867.6 L377.3 866.5 L378.0 866.1 L378.7 866.5 L379.4 867.6 L380.1 869.5 L380.8 872.2 L381.5 875.5 L382.2 879.0 L382.9 881.6 L383.6 883.1 L384.3 883.5 L385.0 882.8 L385.7 881.0 L386.4 878.0 L387.1 874.1 L387.8 871.2 L388.5 869.6 L389.3 869.2 L390.0 870.1 L390.7 872.3 L391.4 875.3 L392.1 877.9 L392.8 879.1 L393.5 878.7 L394.2 876.9 L394.9 873.8 L395.6 869.3 L396.3 864.1 L397.0 860.0 L397.7 857.1 L398.4 855.0 L399.1 853.6 L399.8 852.7 L400.5 852.4 L401.2 853.0 L401.9 853.4 L402.6 853.8 L403.3 854.4 L404.0 855.5 L404.8 857.2 L405.5 859.4 L406.2 861.7 L406.9 864.1 L407.6 865.4 L408.3 865.8 L409.0 865.4 L409.7 864.8 L410.4 864.2 L411.1 863.5 L411.8 863.2 L412.5 864.1 L413.2 866.4 L413.9 869.0 L414.6 870.9 L415.3 872.0 L416.0 872.3 L416.7 871.6 L417.4 870.0 L418.1 867.5 L418.8 864.6 L419.5 861.9 L420.3 859.3 L421.0 856.7 L421.7 854.5 L422.4 852.7 L423.1 851.4 L423.8 850.5 L424.5 849.9 L425.2 849.8 L425.9 850.2 L426.6 850.8 L427.3 851.4 L428.0 851.9 L428.7 852.5 L429.4 852.9 L430.1 853.2 L430.8 853.6 L431.5 855.0 L432.2 857.3 L432.9 860.6 L433.6 864.9 L434.3 870.0 L435.1 875.7 L435.8 881.8 L436.5 887.6 L437.2 893.0 L437.9 897.6 L438.6 901.1 L439.3 903.8 L440.0 905.9 L440.7 906.4 L441.4 905.2 L442.1 902.4 L442.8 898.1 L443.5 892.9 L444.2 886.6 L444.9 879.4 L445.6 872.4 L446.3 866.8 L447.0 862.4 L447.7 859.2 L448.4 857.4 L449.1 856.8 L449.8 857.6 L450.6 859.2 L451.3 860.9 L452.0 863.2 L452.7 866.6 L453.4 871.2 L454.1 876.8 L454.8 883.4 L455.5 890.2 L456.2 895.2 L456.9 897.9 L457.6 897.7 L458.3 894.8 L459.0 889.0 L459.7 881.0 L460.4 872.2 L461.1 864.6 L461.8 858.2 L462.5 853.4 L463.2 850.2 L463.9 848.8 L464.6 848.7 L465.3 849.1 L466.1 850.1 L466.8 851.6 L467.5 853.1 L468.2 854.1 L468.9 854.5 L469.6 854.4 L470.3 853.8 L471.0 853.4 L471.7 853.3 L472.4 853.8 L473.1 855.3 L473.8 857.6 L474.5 860.9 L475.2 865.0 L475.9 868.7 L476.6 871.1 L477.3 872.1 L478.0 871.7 L478.7 870.1 L479.4 867.0 L480.1 862.7 L480.8 858.2 L481.6 854.5 L482.3 851.6 L483.0 849.5 L483.7 848.1 L484.4 847.5 L485.1 847.7 L485.8 848.0 L486.5 848.4 L487.2 849.0 L487.9 850.0 L488.6 851.3 L489.3 852.9 L490.0 854.8 L490.7 857.6 L491.4 861.4 L492.1 866.0 L492.8 871.3 L493.5 877.3 L494.2 884.1 L494.9 890.5 L495.6 896.0 L496.4 900.2 L497.1 903.1 L497.8 904.8 L498.5 905.2 L499.2 904.5 L499.9 903.2 L500.6 901.6 L501.3 899.6 L502.0 897.1 L502.7 894.2 L503.4 890.9 L504.1 887.2 L504.8 883.2 L505.5 879.6 L506.2 877.3 L506.9 876.3 L507.6 876.7 L508.3 878.4 L509.0 881.4 L509.7 885.3 L510.4 889.8 L511.1 893.9 L511.9 897.4 L512.6 900.6 L513.3 903.2 L514.0 905.4 L514.7 907.6 L515.4 909.9 L516.1 912.1 L516.8 913.9 L517.5 915.3 L518.2 916.1 L518.9 916.4 L519.6 916.2 L520.3 915.5 L521.0 913.8 L521.7 911.5 L522.4 908.6 L523.1 905.2 L523.8 901.2 L524.5 896.8 L525.2 891.7 L525.9 886.6 L526.6 881.4 L527.4 876.5 L528.1 872.9 L528.8 870.8 L529.5 870.2 L530.2 870.9 L530.9 873.1 L531.6 876.8 L532.3 881.6 L533.0 886.5 L533.7 891.4 L534.4 896.3 L535.1 901.2 L535.8 905.7 L536.5 908.9 L537.2 910.8 L537.9 911.4 L538.6 910.6 L539.3 908.5 L540.0 905.1 L540.7 900.6 L541.4 895.9 L542.1 891.1 L542.9 886.0 L543.6 880.8 L544.3 875.4 L545.0 870.3 L545.7 865.8 L546.4 861.9 L547.1 858.7 L547.8 856.2 L548.5 854.3 L549.2 853.1 L549.9 852.1 L550.6 851.1 L551.3 850.1 L552.0 849.2 L552.7 848.9 L553.4 849.0 L554.1 849.6 L554.8 850.8 L555.5 852.4 L556.2 854.5 L556.9 857.0 L557.7 859.4 L558.4 861.9 L559.1 864.4 L559.8 866.5 L560.5 868.4 L561.2 869.9 L561.9 871.1 L562.6 872.0 L563.3 872.6 L564.0 872.7 L564.7 872.3 L565.4 871.3 L566.1 869.9 L566.8 867.9 L567.5 865.4 L568.2 862.4 L568.9 859.0 L569.6 857.0 L570.3 856.6 L571.0 857.9 L571.7 860.7 L572.4 865.1 L573.2 871.1 L573.9 878.5 L574.6 884.8 L575.3 889.9 L576.0 893.7 L576.7 896.3 L577.4 897.7 L578.1 897.9 L578.8 897.4 L579.5 897.1 L580.2 897.2 L580.9 897.5 L581.6 898.1 L582.3 899.0 L583.0 900.1 L583.7 901.1 L584.4 902.0 L585.1 902.8 L585.8 903.3 L586.5 903.7 L587.2 903.8 L587.9 902.9 L588.7 901.2 L589.4 898.9 L590.1 895.3 L590.8 890.3 L591.5 883.8 L592.2 876.0 L592.9 868.8 L593.6 862.4 L594.3 857.0 L595.0 852.9 L595.7 850.4 L596.4 849.7 L597.1 850.7 L597.8 851.8 L598.5 852.7 L599.2 853.4 L599.9 853.8 L600.6 854.0 L601.3 854.0 L602.0 854.1 L602.7 854.6 L603.4 855.4 L604.2 856.7 L604.9 858.3 L605.6 860.1 L606.3 862.1 L607.0 863.9 L607.7 865.0 L608.4 865.3 L609.1 865.0 L609.8 864.0 L610.5 862.6 L611.2 860.6 L611.9 858.2 L612.6 856.3 L613.3 854.8 L614.0 853.7 L614.7 853.0 L615.4 852.8 L616.1 853.0 L616.8 853.5 L617.5 854.0 L618.2 854.6 L619.0 856.0 L619.7 858.4 L620.4 861.8 L621.1 866.1 L621.8 871.5 L622.5 877.7 L623.2 885.0 L623.9 891.9 L624.6 897.1 L625.3 900.7 L626.0 902.6 L626.7 902.9 L627.4 901.6 L628.1 898.7 L628.8 894.7 L629.5 890.7 L630.2 886.7 L630.9 882.7 L631.6 879.0 L632.3 876.3 L633.0 874.7 L633.7 874.1 L634.5 874.6 L635.2 876.1 L635.9 878.7 L636.6 882.0 L637.3 885.4 L638.0 888.8 L638.7 892.1 L639.4 895.5 L640.1 898.8 L640.8 901.5 L641.5 903.2 L642.2 903.9 L642.9 903.6 L643.6 902.3 L644.3 900.1 L645.0 896.8 L645.7 893.2 L646.4 889.6 L647.1 886.0 L647.8 882.3 L648.5 878.7 L649.2 876.4 L650.0 875.5 L650.7 876.2 L651.4 878.4 L652.1 882.1 L652.8 887.3 L653.5 894.0 L654.2 899.8 L654.9 904.6 L655.6 908.3 L656.3 911.0 L657.0 912.6 L657.7 913.2 L658.4 912.8 L659.1 912.2 L659.8 911.4 L660.5 910.3 L661.2 909.1 L661.9 907.6 L662.6 906.0 L663.3 904.2 L664.0 902.5 L664.7 901.0 L665.5 900.0 L666.2 899.4 L666.9 899.3 L667.6 899.7 L668.3 900.6 L669.0 901.9 L669.7 903.4 L670.4 904.9 L671.1 906.4 L671.8 907.7 L672.5 908.2 L673.2 907.7 L673.9 906.4 L674.6 904.2 L675.3 901.2 L676.0 897.2 L676.7 892.6 L677.4 888.0 L678.1 883.4 L678.8 878.8 L679.5 874.1 L680.3 869.5 L681.0 864.9 L681.7 861.5 L682.4 859.5 L683.1 858.9 L683.8 859.7 L684.5 861.8 L685.2 865.4 L685.9 870.3 L686.6 875.4 L687.3 880.5 L688.0 885.6 L688.7 890.7 L689.4 895.8 L690.1 900.9 L690.8 905.1 L691.5 907.8 L692.2 909.0 L692.9 908.6 L693.6 906.7 L694.3 903.3 L695.0 898.3 L695.8 892.7 L696.5 887.1 L697.2 882.3 L697.9 878.9 L698.6 876.9 L699.3 876.2 L700.0 876.9 L700.7 878.9 L701.4 882.3 L702.1 886.1 L702.8 889.9 L703.5 892.8 L704.2 894.4 L704.9 894.8 L705.6 893.9 L706.3 891.8 L707.0 888.5 L707.7 883.9 L708.4 879.1 L709.1 874.2 L709.8 869.4 L710.5 864.6 L711.3 860.2 L712.0 856.7 L712.7 854.0 L713.4 852.0 L714.1 850.8 L714.8 850.5 L715.5 850.9 L716.2 851.5 L716.9 852.2 L717.6 852.8 L718.3 853.5 L719.0 854.6 L719.7 856.4 L720.4 859.0 L721.1 862.3 L721.8 866.4 L722.5 871.3 L723.2 876.9 L723.9 882.8 L724.6 888.7 L725.3 894.7 L726.0 900.4 L726.8 904.8 L727.5 908.0 L728.2 909.9 L728.9 910.6 L729.6 910.0 L730.3 908.2 L731.0 905.3 L731.7 902.4 L732.4 899.7 L733.1 897.8 L733.8 896.5 L734.5 895.8 L735.2 895.9 L735.9 896.7 L736.6 898.1 L737.3 900.1 L738.0 902.0 L738.7 903.9 L739.4 905.7 L740.1 907.4 L740.8 909.0 L741.6 910.5 L742.3 911.9 L743.0 913.2 L743.7 914.4 L744.4 915.7 L745.1 916.7 L745.8 917.3 L746.5 917.4 L747.2 917.2 L747.9 916.6 L748.6 915.5 L749.3 914.0 L750.0 912.3 L750.7 910.7 L751.4 909.0 L752.1 907.3 L752.8 905.6 L753.5 903.9 L754.2 902.3 L754.9 900.8 L755.6 899.6 L756.3 898.5 L757.1 897.7 L757.8 897.0 L758.5 896.5 L759.2 896.2 L759.9 895.9 L760.6 895.6 L761.3 895.3 L762.0 895.3 L762.7 895.7 L763.4 896.5 L764.1 897.6 L764.8 899.1 L765.5 901.0 L766.2 903.2 L766.9 905.5 L767.6 907.8 L768.3 910.1 L769.0 912.3 L769.7 914.2 L770.4 915.9 L771.1 917.2 L771.8 918.2 L772.6 919.0 L773.3 919.5 L774.0 919.2 L774.7 918.3 L775.4 916.6 L776.1 914.3 L776.8 911.2 L777.5 907.5 L778.2 903.0 L778.9 898.4 L779.6 894.5 L780.3 891.8 L781.0 890.2 L781.7 889.7 L782.4 889.4 L783.1 888.7 L783.8 887.8 L784.5 885.8 L785.2 882.4 L785.9 879.0 L786.6 875.6 L787.4 873.1 L788.1 872.1 L788.8 872.5 L789.5 874.3 L790.2 877.1 L790.9 878.6 L791.6 878.8 L792.3 877.8 L793.0 875.5 L793.7 871.9 L794.4 867.1 L795.1 862.2 L795.8 858.5 L796.5 855.9 L797.2 854.5 L797.9 854.2 L798.6 854.9 L799.3 856.4 L800.0 858.0 L800.7 859.3 L801.4 860.3 L802.1 861.1 L802.9 861.9 L803.6 862.8 L804.3 863.9 L805.0 865.2 L805.7 866.2 L806.4 866.9 L807.1 867.0 L807.8 866.6 L808.5 865.5 L809.2 863.7 L809.9 861.3 L810.6 859.1 L811.3 857.4 L812.0 856.3 L812.7 855.7 L813.4 855.7 L814.1 856.2 L814.8 857.6 L815.5 859.9 L816.2 863.0 L816.9 866.7 L817.6 871.1 L818.4 876.2 L819.1 882.0 L819.8 888.1 L820.5 893.8 L821.2 898.5 L821.9 902.2 L822.6 905.0 L823.3 906.8 L824.0 907.6 L824.7 907.4 L825.4 906.6 L826.1 905.7 L826.8 904.2 L827.5 901.9 L828.2 899.1 L828.9 895.6 L829.6 891.5 L830.3 886.7 L831.0 881.5 L831.7 876.4 L832.4 872.9 L833.1 871.1 L833.9 870.9 L834.6 872.3 L835.3 875.4 L836.0 880.1 L836.7 886.3 L837.4 892.5 L838.1 898.6 L838.8 904.4 L839.5 909.1 L840.2 912.9 L840.9 915.6 L841.6 917.4 L842.3 918.2 L843.0 917.7 L843.7 916.0 L844.4 913.7 L845.1 910.7 L845.8 907.2 L846.5 903.0 L847.2 898.1 L847.9 893.0 L848.7 888.3 L849.4 884.9 L850.1 882.6 L850.8 881.5 L851.5 881.6 L852.2 882.8 L852.9 885.3 L853.6 888.5 L854.3 890.7 L855.0 891.8 L855.7 892.0 L856.4 891.2 L857.1 889.4 L857.8 886.7 L858.5 883.3 L859.2 880.1 L859.9 877.0 L860.6 874.2 L861.3 871.6 L862.0 869.2 L862.7 866.8 L863.4 864.5 L864.2 862.1 L864.9 859.9 L865.6 858.3 L866.3 857.1 L867.0 856.4 L867.7 856.2 L868.4 856.5 L869.1 857.3 L869.8 858.3 L870.5 859.4 L871.2 860.9 L871.9 863.2 L872.6 866.3 L873.3 870.3 L874.0 875.0 L874.7 880.6 L875.4 886.9 L876.1 892.8 L876.8 897.8 L877.5 901.8 L878.2 904.9 L878.9 907.0 L879.7 908.2 L880.4 908.4 L881.1 908.5 L881.8 908.6 L882.5 908.1 L883.2 906.9 L883.9 905.0 L884.6 902.4 L885.3 899.2 L886.0 895.3 L886.7 890.8 L887.4 886.2 L888.1 881.7 L888.8 877.1 L889.5 872.6 L890.2 868.0 L890.9 863.9 L891.6 860.8 L892.3 858.7 L893.0 857.8 L893.7 857.8 L894.4 859.0 L895.2 861.1 L895.9 863.4 L896.6 865.0 L897.3 865.8 L898.0 866.9 L898.7 868.5 L899.4 870.6 L900.1 873.3 L900.8 877.0 L901.5 882.0 L902.2 888.3 L902.9 894.4 L903.6 899.3 L904.3 902.9 L905.0 905.4 L905.7 906.6 L906.4 906.6 L907.1 905.6 L907.8 904.0 L908.5 902.6 L909.2 901.3 L910.0 900.3 L910.7 899.3 L911.4 898.1 L912.1 896.4 L912.8 894.2 L913.5 891.6 L914.2 888.5 L914.9 885.0 L915.6 881.2 L916.3 877.4 L917.0 873.5 L917.7 869.7 L918.4 865.9 L919.1 862.0 L919.8 858.2 L920.5 854.9 L921.2 852.4 L921.9 850.4 L922.6 849.2 L923.3 848.6 L924.0 848.6 L924.7 849.3 L925.5 850.1 L926.2 850.8 L926.9 851.6 L927.6 852.5 L928.3 853.9 L929.0 855.6 L929.7 857.6 L930.4 860.1 L931.1 862.9 L931.8 865.7 L932.5 868.0 L933.2 869.7 L933.9 870.8 L934.6 871.2 L935.3 871.0 L936.0 870.8 L936.7 871.4 L937.4 872.9 L938.1 875.3 L938.8 878.7 L939.5 883.0 L940.2 888.3 L941.0 893.4 L941.7 896.6 L942.4 898.0 L943.1 897.5 L943.8 895.3 L944.5 891.2 L945.2 885.3 L945.9 879.0 L946.6 874.2 L947.3 870.8 L948.0 869.0 L948.7 868.5 L949.4 869.6 L950.1 872.1 L950.8 875.2 L951.5 878.3 L952.2 881.6 L952.9 885.0 L953.6 888.6 L954.3 892.4 L955.0 896.3 L955.7 900.3 L956.5 904.4 L957.2 908.5 L957.9 911.7 L958.6 913.3 L959.3 913.2 L960.0 911.6 L960.7 908.4 L961.4 903.5 L962.1 897.1 L962.8 890.0 L963.5 882.9 L964.2 876.4 L964.9 870.7 L965.6 865.9 L966.3 862.0 L967.0 858.9 L967.7 857.0 L968.4 856.6 L969.1 857.2 L969.8 858.4 L970.5 860.3 L971.3 862.8 L972.0 866.0 L972.7 868.8 L973.4 870.7 L974.1 871.7 L974.8 871.8 L975.5 871.0 L976.2 869.4 L976.9 866.8 L977.6 864.6 L978.3 862.9 L979.0 861.6 L979.7 860.8 L980.4 860.6 L981.1 860.8 L981.8 861.0 L982.5 860.6 L983.2 859.6 L983.9 858.4 L984.6 857.1 L985.3 855.6 L986.0 855.0 L986.8 856.1 L987.5 859.0 L988.2 863.3 L988.9 868.6 L989.6 874.8 L990.3 882.0 L991.0 888.9 L991.7 895.5 L992.4 900.4 L993.1 904.0 L993.8 906.2 L994.5 907.0 L995.2 906.6 L995.9 904.8 L996.6 901.7 L997.3 898.6 L998.0 895.4 L998.7 892.7 L999.4 891.1 L1000.1 890.6 L1000.8 891.4 L1001.5 893.2 L1002.3 896.3 L1003.0 900.0 L1003.7 903.3 L1004.4 905.5 L1005.1 906.6 L1005.8 906.6 L1006.5 905.4 L1007.2 903.1 L1007.9 900.2 L1008.6 897.3 L1009.3 894.4 L1010.0 891.6 L1010.7 888.9 L1011.4 886.4 L1012.1 884.0 L1012.8 881.7 L1013.5 879.6 L1014.2 877.7 L1014.9 875.7 L1015.6 873.8 L1016.3 871.9 L1017.0 870.0 L1017.8 868.6 L1018.5 868.2 L1019.2 868.6 L1019.9 869.9 L1020.6 872.0 L1021.3 875.1 L1022.0 879.0 L1022.7 883.2 L1023.4 887.3 L1024.1 891.5 L1024.8 895.7 L1025.5 899.9 L1026.2 904.0 L1026.9 906.7 L1027.6 908.1 L1028.3 908.2 L1029.0 907.0 L1029.7 904.4 L1030.4 900.5 L1031.1 895.4 L1031.8 890.3 L1032.6 885.2 L1033.3 880.1 L1034.0 875.0 L1034.7 870.1 L1035.4 866.0 L1036.1 862.8 L1036.8 860.4 L1037.5 858.9 L1038.2 858.2 L1038.9 858.4 L1039.6 859.2 L1040.3 860.0 L1041.0 860.8 L1041.7 861.6 L1042.4 863.1 L1043.1 865.6 L1043.8 869.0 L1044.5 873.2 L1045.2 878.4 L1045.9 883.4 L1046.6 888.0 L1047.3 891.2 L1048.1 893.0 L1048.8 893.5 L1049.5 893.1 L1050.2 891.8 L1050.9 890.5 L1051.6 889.8 L1052.3 889.6 L1053.0 890.4 L1053.7 892.0 L1054.4 894.1 L1055.1 896.6 L1055.8 899.6 L1056.5 903.0 L1057.2 906.0 L1057.9 908.3 L1058.6 909.8 L1059.3 910.5 L1060.0 910.5 L1060.7 909.8 L1061.4 908.4 L1062.1 907.4 L1062.8 906.9 L1063.6 906.4 L1064.3 905.3 L1065.0 903.6 L1065.7 901.4 L1066.4 898.6 L1067.1 894.8 L1067.8 890.8 L1068.5 887.9 L1069.2 886.6 L1069.9 886.9 L1070.6 888.8 L1071.3 892.0 L1072.0 896.0 L1072.7 899.8 L1073.4 902.7 L1074.1 904.8 L1074.8 906.1 L1075.5 906.5 L1076.2 906.4 L1076.9 906.3 L1077.6 906.2 L1078.3 905.8 L1079.1 905.1 L1079.8 904.0 L1080.5 902.6 L1081.2 900.8 L1081.9 898.7 L1082.6 896.9 L1083.3 895.8 L1084.0 895.5 L1084.7 896.0 L1085.4 897.3 L1086.1 899.4 L1086.8 902.3 L1087.5 904.9 L1088.2 906.3 L1088.9 906.5 L1089.6 905.6 L1090.3 903.6 L1091.0 900.4 L1091.7 896.1 L1092.4 891.1 L1093.1 886.1 L1093.9 881.1 L1094.6 877.3 L1095.3 874.9 L1096.0 873.9 L1096.7 874.4 L1097.4 876.3 L1098.1 879.6 L1098.8 884.4 L1099.5 889.0 L1100.2 892.4 L1100.9 894.7 L1101.6 895.7 L1102.3 895.6 L1103.0 894.3 L1103.7 891.7 L1104.4 888.5 L1105.1 886.3 L1105.8 885.0 L1106.5 884.8 L1107.2 885.6 L1107.9 887.4 L1108.6 890.3 L1109.4 894.1 L1110.1 898.0 L1110.8 901.9 L1111.5 905.7 L1112.2 908.8 L1112.9 910.7 L1113.6 911.2 L1114.3 910.4 L1115.0 908.4 L1115.7 905.1 L1116.4 900.5 L1117.1 895.4 L1117.8 890.3 L1118.5 885.1 L1119.2 880.0 L1119.9 874.9 L1120.6 870.4 L1121.3 866.5 L1122.0 863.4 L1122.7 861.0 L1123.4 859.3 L1124.1 858.3 L1124.9 858.1 L1125.6 858.0 L1126.3 858.0 L1127.0 858.0 L1127.7 858.1 L1128.4 858.2 L1129.1 858.3 L1129.8 858.3 L1130.5 857.9 L1131.2 857.2 L1131.9 856.3 L1132.6 855.6 L1133.3 855.0 L1134.0 854.6 L1134.7 854.9 L1135.4 856.3 L1136.1 858.8 L1136.8 862.1 L1137.5 865.9 L1138.2 870.2 L1138.9 874.2 L1139.7 877.2 L1140.4 879.0 L1141.1 879.7 L1141.8 879.4 L1142.5 878.2 L1143.2 876.5 L1143.9 875.1 L1144.6 874.2 L1145.3 873.8 L1146.0 873.3 L1146.7 872.7 L1147.4 871.8 L1148.1 870.4 L1148.8 868.3 L1149.5 865.7 L1150.2 862.6 L1150.9 860.2 L1151.6 858.8 L1152.3 858.3 L1153.0 858.8 L1153.7 860.3 L1154.4 862.6 L1155.2 866.0 L1155.9 869.5 L1156.6 873.0 L1157.3 876.5 L1158.0 880.1 L1158.7 883.6 L1159.4 887.1 L1160.1 890.1 L1160.8 891.8 L1161.5 892.3 L1162.2 891.6 L1162.9 889.6 L1163.6 886.4 L1164.3 882.0 L1165.0 877.9 L1165.7 875.1 L1166.4 873.6 L1167.1 873.4 L1167.8 874.5 L1168.5 876.8 L1169.2 880.5 L1169.9 884.4 L1170.7 887.9 L1171.4 890.6 L1172.1 892.7 L1172.8 893.9 L1173.5 893.3 L1174.2 891.1 L1174.9 887.2 L1175.6 882.5 L1176.3 877.9 L1177.0 873.4 L1177.7 869.6 L1178.4 867.6 L1179.1 867.5 L1179.8 869.3 L1180.5 872.5 L1181.2 876.4 L1181.9 881.1 L1182.6 886.1 L1183.3 891.1 L1184.0 895.9 L1184.7 900.6 L1185.4 905.2 L1186.2 908.7 L1186.9 910.9 L1187.6 911.6 L1188.3 911.1 L1189.0 909.3 L1189.7 906.3 L1190.4 901.9 L1191.1 897.2 L1191.8 892.5 L1192.5 887.7 L1193.2 883.0 L1193.9 878.3 L1194.6 873.6 L1195.3 869.0 L1196.0 864.4 L1196.7 860.1 L1197.4 856.4 L1198.1 853.4 L1198.8 851.1 L1199.5 849.5 L1200.2 848.4 L1201.0 847.9 L1201.7 847.9 L1202.4 847.9 L1203.1 848.0 L1203.8 848.1 L1204.5 848.2 L1205.2 848.4 L1205.9 848.7 L1206.6 849.0 L1207.3 849.3 L1208.0 849.8 L1208.7 850.4 L1209.4 851.1 L1210.1 852.0 L1210.8 853.0 L1211.5 854.2 L1212.2 855.4 L1212.9 856.2 L1213.6 856.6 L1214.3 856.8 L1215.0 856.5 L1215.7 855.9 L1216.5 855.0 L1217.2 854.0 L1217.9 853.5 L1218.6 853.3 L1219.3 853.7 L1220.0 855.5 L1220.7 858.7 L1221.4 863.3 L1222.1 869.1 L1222.8 875.9 L1223.5 883.0 L1224.2 889.2 L1224.9 893.7 L1225.6 896.6 L1226.3 897.8 L1227.0 897.4 L1227.7 895.3 L1228.4 892.2 L1229.1 889.1 L1229.8 886.0 L1230.5 882.8 L1231.2 880.8 L1232.0 879.9 L1232.7 880.1 L1233.4 881.4 L1234.1 883.8 L1234.8 887.1 L1235.5 890.4 L1236.2 892.3 L1236.9 893.0 L1237.6 892.5 L1238.3 890.7 L1239.0 888.9 L1239.7 887.4 L1240.4 887.4 L1241.1 888.8 L1241.8 891.7 L1242.5 896.1 L1243.2 901.6 L1243.9 905.8 L1244.6 908.8 L1245.3 910.4 L1246.0 910.6 L1246.7 909.5 L1247.5 907.0 L1248.2 903.5 L1248.9 900.0 L1249.6 896.5 L1250.3 892.9 L1251.0 890.0 L1251.7 887.7 L1252.4 886.1 L1253.1 885.2 L1253.8 885.0 L1254.5 885.5 L1255.2 886.6 L1255.9 887.8 L1256.6 889.1 L1257.3 890.0 L1258.0 890.6 L1258.7 891.0 L1259.4 891.6 L1260.1 892.4 L1260.8 893.5 L1261.5 894.9 L1262.3 896.7 L1263.0 899.1 L1263.7 900.5 L1264.4 900.4 L1265.1 898.9 L1265.8 895.9 L1266.5 891.4 L1267.2 885.5 L1267.9 878.2 L1268.6 870.9 L1269.3 864.7 L1270.0 859.7 L1270.7 856.0 L1271.4 853.4 L1272.1 852.0 L1272.8 851.9 L1273.5 853.0 L1274.2 854.1 L1274.9 855.6 L1275.6 857.5 L1276.3 859.8 L1277.0 862.5 L1277.8 865.7 L1278.5 869.3 L1279.2 873.3 L1279.9 877.3 L1280.6 881.4 L1281.3 885.5 L1282.0 889.6 L1282.7 893.6 L1283.4 897.7 L1284.1 901.8 L1284.8 905.2 L1285.5 907.8 L1286.2 909.4 L1286.9 910.1 L1287.6 909.9 L1288.3 908.8 L1289.0 906.8 L1289.7 904.5 L1290.4 902.2 L1291.1 900.1 L1291.8 898.2 L1292.5 896.7 L1293.3 895.3 L1294.0 894.2 L1294.7 893.3 L1295.4 892.7 L1296.1 892.4 L1296.8 892.4 L1297.5 892.9 L1298.2 893.8 L1298.9 895.2 L1299.6 897.0 L1300.3 899.3 L1301.0 901.0 L1301.7 901.7 L1302.4 901.4 L1303.1 900.0 L1303.8 897.6 L1304.5 894.2 L1305.2 889.8 L1305.9 885.1 L1306.6 880.4 L1307.3 875.6 L1308.0 870.9 L1308.8 866.2 L1309.5 862.3 L1310.2 859.2 L1310.9 856.9 L1311.6 855.6 L1312.3 855.5 L1313.0 856.7 L1313.7 859.1 L1314.4 862.0 L1315.1 865.3 L1315.8 868.9 L1316.5 872.9 L1317.2 876.9 L1317.9 880.8 L1318.6 884.8 L1319.3 888.8 L1320.0 892.7 L1320.7 896.7 L1321.4 900.6 L1322.1 903.5 L1322.8 905.6 L1323.6 906.8 L1324.3 907.2 L1325.0 906.6 L1325.7 905.1 L1326.4 902.9 L1327.1 900.6 L1327.8 898.4 L1328.5 896.2 L1329.2 893.9 L1329.9 891.7 L1330.6 889.4 L1331.3 887.2 L1332.0 885.0 L1332.7 882.7 L1333.4 881.0 L1334.1 880.0 L1334.8 879.6 L1335.5 879.8 L1336.2 880.7 L1336.9 882.3 L1337.6 884.5 L1338.3 886.9 L1339.1 889.2 L1339.8 891.6 L1340.5 893.9 L1341.2 896.3 L1341.9 898.6 L1342.6 901.0 L1343.3 903.3 L1344.0 905.5 L1344.7 906.9 L1345.4 907.5 L1346.1 907.3 L1346.8 906.4 L1347.5 904.7 L1348.2 902.2 L1348.9 899.2 L1349.6 896.1 L1350.3 893.1 L1351.0 890.1 L1351.7 887.0 L1352.4 884.0 L1353.1 881.0 L1353.8 877.9 L1354.6 874.9 L1355.3 871.9 L1356.0 868.8 L1356.7 865.8 L1357.4 862.8 L1358.1 861.0 L1358.8 860.4 L1359.5 861.1 L1360.2 863.1 L1360.9 866.3 L1361.6 870.7 L1362.3 876.4 L1363.0 882.1 L1363.7 887.8 L1364.4 893.1 L1365.1 897.3 L1365.8 900.5 L1366.5 902.6 L1367.2 903.6 L1367.9 903.6 L1368.6 902.0 L1369.3 898.9 L1370.1 895.2 L1370.8 890.6 L1371.5 885.4 L1372.2 879.4 L1372.9 873.6 L1373.6 868.8 L1374.3 865.1 L1375.0 862.8 L1375.7 862.5 L1376.4 864.2 L1377.1 867.9 L1377.8 872.7 L1378.5 878.3 L1379.2 883.6 L1379.9 888.5 L1380.6 892.2 L1381.3 894.7 L1382.0 896.1 L1382.7 896.8 L1383.4 897.1 L1384.1 898.0 L1384.9 898.3 L1385.6 897.7 L1386.3 896.2 L1387.0 893.7 L1387.7 889.7 L1388.4 884.0 L1389.1 876.7 L1389.8 869.5 L1390.5 863.9 L1391.2 859.9 L1391.9 857.4 L1392.6 856.6 L1393.3 857.3 L1394.0 859.6 L1394.7 863.0 L1395.4 866.2 L1396.1 868.9 L1396.8 871.2 L1397.5 872.9 L1398.2 874.2 L1398.9 874.5 L1399.6 873.9 L1400.4 872.3 L1401.1 870.3 L1401.8 867.8 L1402.5 865.2 L1403.2 862.6 L1403.9 860.2 L1404.6 858.3 L1405.3 856.9 L1406.0 856.2 L1406.7 855.9 L1407.4 855.9 L1408.1 856.1 L1408.8 856.8 L1409.5 858.2 L1410.2 860.1 L1410.9 862.6 L1411.6 865.5 L1412.3 868.9 L1413.0 871.9 L1413.7 874.0 L1414.4 874.9 L1415.1 875.7 L1415.9 876.7 L1416.6 877.8 L1417.3 879.1 L1418.0 881.4 L1418.7 884.9 L1419.4 889.2 L1420.1 892.9 L1420.8 895.9 L1421.5 898.2 L1422.2 899.8 L1422.9 900.7 L1423.6 900.8 L1424.3 900.9 L1425.0 900.9 L1425.7 900.8 L1426.4 899.6 L1427.1 897.5 L1427.8 894.4 L1428.5 890.4 L1429.2 886.9 L1429.9 884.5 L1430.6 883.2 L1431.4 883.9 L1432.1 886.5 L1432.8 891.0 L1433.5 896.2 L1434.2 900.2 L1434.9 902.7 L1435.6 903.7 L1436.3 903.2 L1437.0 901.2 L1437.7 897.7 L1438.4 893.9 L1439.1 890.2 L1439.8 886.5 L1440.5 883.3 L1441.2 881.2 L1441.9 880.1 L1442.6 880.1 L1443.3 881.1 L1444.0 883.2 L1444.7 886.3 L1445.4 889.9 L1446.2 892.7 L1446.9 894.7 L1447.6 895.9 L1448.3 896.3 L1449.0 896.3 L1449.7 896.1 L1450.4 895.7 L1451.1 895.9 L1451.8 896.6 L1452.5 897.9 L1453.2 899.8 L1453.9 901.6 L1454.6 902.9 L1455.3 903.5 L1456.0 903.4 L1456.7 902.7 L1457.4 901.3 L1458.1 899.3 L1458.8 896.8 L1459.5 894.3 L1460.2 891.8 L1460.9 889.8 L1461.7 888.6 L1462.4 888.1 L1463.1 888.4 L1463.8 889.4 L1464.5 891.2 L1465.2 893.8 L1465.9 896.6 L1466.6 899.5 L1467.3 902.4 L1468.0 905.2 L1468.7 907.9 L1469.4 910.0 L1470.1 911.6 L1470.8 912.8 L1471.5 913.4 L1472.2 913.6 L1472.9 913.3 L1473.6 912.7 L1474.3 912.4 L1475.0 912.3 L1475.7 912.5 L1476.4 912.5 L1477.2 912.5 L1477.9 912.4 L1478.6 912.3 L1479.3 911.8 L1480.0 910.5 L1480.7 908.4 L1481.4 905.7 L1482.1 902.4 L1482.8 898.6 L1483.5 894.2 L1484.2 889.3 L1484.9 884.3 L1485.6 879.4 L1486.3 875.8 L1487.0 873.6 L1487.7 872.7 L1488.4 873.1 L1489.1 874.9 L1489.8 878.0 L1490.5 882.4 L1491.2 886.7 L1492.0 891.1 L1492.7 895.5 L1493.4 899.8 L1494.1 903.1 L1494.8 905.3 L1495.5 906.3 L1496.2 906.2 L1496.9 905.0 L1497.6 902.6 L1498.3 899.1 L1499.0 895.5 L1499.7 892.0 L1500.4 888.4 L1501.1 884.9 L1501.8 881.3 L1502.5 877.7 L1503.2 874.2 L1503.9 870.7 L1504.6 867.3 L1505.3 864.2 L1506.0 861.3 L1506.7 858.7 L1507.5 856.7 L1508.2 855.1 L1508.9 854.0 L1509.6 853.3 L1510.3 852.9 L1511.0 853.2 L1511.7 854.0 L1512.4 855.2 L1513.1 856.8 L1513.8 858.2 L1514.5 859.5 L1515.2 860.5 L1515.9 860.9 L1516.6 860.8 L1517.3 860.0 L1518.0 858.7 L1518.7 857.4 L1519.4 856.4 L1520.1 855.6 L1520.8 855.0 L1521.5 854.7 L1522.2 854.9 L1523.0 855.7 L1523.7 856.9 L1524.4 858.3 L1525.1 860.1 L1525.8 862.1 L1526.5 864.4 L1527.2 866.6 L1527.9 868.4 L1528.6 869.9 L1529.3 871.0 L1530.0 871.8 L1530.7 872.3 L1531.4 872.4 L1532.1 872.6 L1532.8 873.7 L1533.5 875.8 L1534.2 878.8 L1534.9 882.9 L1535.6 886.7 L1536.3 890.0 L1537.0 892.4 L1537.7 893.2 L1538.5 892.4 L1539.2 890.0 L1539.9 886.0 L1540.6 882.7 L1541.3 880.6 L1542.0 879.8 L1542.7 880.2 L1543.4 881.8 L1544.1 884.6 L1544.8 888.6 L1545.5 892.6 L1546.2 896.6 L1546.9 900.2 L1547.6 902.5 L1548.3 903.6 L1549.0 903.6 L1549.7 902.3 L1550.4 899.9 L1551.1 896.2 L1551.8 891.9 L1552.5 887.5 L1553.3 883.1 L1554.0 878.8 L1554.7 874.5 L1555.4 870.7 L1556.1 867.2 L1556.8 864.2 L1557.5 861.6 L1558.2 859.3 L1558.9 857.5 L1559.6 856.0 L1560.3 854.5 L1561.0 853.0 L1561.7 851.6 L1562.4 850.4 L1563.1 849.4 L1563.8 848.6 L1564.5 848.1 L1565.2 847.9 L1565.9 848.1 L1566.6 848.4 L1567.3 848.9 L1568.0 849.6 L1568.8 850.3 L1569.5 851.2 L1570.2 852.1 L1570.9 853.0 L1571.6 854.0 L1572.3 855.0 L1573.0 856.0 L1573.7 857.1 L1574.4 858.3 L1575.1 860.2 L1575.8 863.5 L1576.5 867.9 L1577.2 873.7 L1577.9 878.3 L1578.6 881.9 L1579.3 884.3 L1580.0 884.8 L1580.7 883.0 L1581.4 878.8 L1582.1 872.2 L1582.8 866.4 L1583.5 862.1 L1584.3 859.2 L1585.0 857.7 L1585.7 857.7 L1586.4 859.2 L1587.1 862.1 L1587.8 865.6 L1588.5 869.1 L1589.2 872.2 L1589.9 874.5 L1590.6 876.2 L1591.3 877.1 L1592.0 877.4 L1592.7 877.0 L1593.4 875.9 L1594.1 875.0 L1594.8 874.7 L1595.5 875.1 L1596.2 876.2 L1596.9 877.9 L1597.6 880.3 L1598.3 883.3 L1599.0 886.6 L1599.8 889.9 L1600.5 893.1 L1601.2 896.4 L1601.9 899.5 L1602.6 901.4 L1603.3 902.2 L1604.0 901.9 L1604.7 900.4 L1605.4 897.7 L1606.1 893.9 L1606.8 889.2 L1607.5 884.4 L1608.2 880.1 L1608.9 877.2 L1609.6 875.8 L1610.3 875.9 L1611.0 877.4 L1611.7 880.5 L1612.4 885.0 L1613.1 890.5 L1613.8 896.1 L1614.6 901.1 L1615.3 904.5 L1616.0 906.4 L1616.7 906.7 L1617.4 905.4 L1618.1 902.6 L1618.8 898.2 L1619.5 892.8 L1620.2 887.5 L1620.9 882.1 L1621.6 876.7 L1622.3 871.9 L1623.0 868.7 L1623.7 867.2 L1624.4 867.5 L1625.1 869.5 L1625.8 873.2 L1626.5 878.6 L1627.2 885.3 L1627.9 891.8 L1628.6 897.5 L1629.3 902.2 L1630.1 906.0 L1630.8 909.0 L1631.5 911.0 L1632.2 912.1 L1632.9 911.8 L1633.6 911.0 L1634.3 909.7 L1635.0 907.9 L1635.7 905.6 L1636.4 902.7 L1637.1 899.4 L1637.8 896.2 L1638.5 894.0 L1639.2 892.7 L1639.9 892.3 L1640.6 892.9 L1641.3 894.5 L1642.0 897.1 L1642.7 900.5 L1643.4 903.5 L1644.1 905.6 L1644.8 906.9 L1645.6 907.4 L1646.3 907.1 L1647.0 906.0 L1647.7 904.1 L1648.4 902.6 L1649.1 901.6 L1649.8 901.4 L1650.5 901.7 L1651.2 902.7 L1651.9 904.4 L1652.6 906.7 L1653.3 909.0 L1654.0 910.5 L1654.7 911.2 L1655.4 911.0 L1656.1 909.9 L1656.8 907.9 L1657.5 904.9 L1658.2 901.1 L1658.9 897.2 L1659.6 893.2 L1660.3 889.3 L1661.1 885.3 L1661.8 881.4 L1662.5 877.4 L1663.2 873.7 L1663.9 870.3 L1664.6 867.3 L1665.3 864.7 L1666.0 862.7 L1666.7 861.4 L1667.4 860.8 L1668.1 860.8 L1668.8 861.4 L1669.5 863.3 L1670.2 866.6 L1670.9 871.0 L1671.6 876.4 L1672.3 882.8 L1673.0 890.3 L1673.7 897.3 L1674.4 902.7 L1675.1 906.4 L1675.9 908.4 L1676.6 908.7 L1677.3 907.4 L1678.0 904.5 L1678.7 901.0 L1679.4 897.5 L1680.1 894.0 L1680.8 890.5 L1681.5 887.0 L1682.2 883.5 L1682.9 880.0 L1683.6 876.5 L1684.3 873.0 L1685.0 869.6 L1685.7 866.7 L1686.4 864.8 L1687.1 864.0 L1687.8 864.1 L1688.5 865.2 L1689.2 867.3 L1689.9 869.8 L1690.6 871.9 L1691.4 873.2 L1692.1 873.8 L1692.8 873.6 L1693.5 872.6 L1694.2 870.9 L1694.9 869.3 L1695.6 869.3 L1696.3 870.8 L1697.0 873.8 L1697.7 878.3 L1698.4 884.4 L1699.1 891.1 L1699.8 897.1 L1700.5 901.7 L1701.2 905.1 L1701.9 907.2 L1702.6 908.2 L1703.3 908.0 L1704.0 907.3 L1704.7 907.6 L1705.4 908.5 L1706.1 909.8 L1706.9 911.4 L1707.6 913.0 L1708.3 914.4 L1709.0 915.6 L1709.7 916.2 L1710.4 916.3 L1711.1 915.8 L1711.8 914.8 L1712.5 913.6 L1713.2 912.4 L1713.9 910.8 L1714.6 909.0 L1715.3 906.7 L1716.0 904.2 L1716.7 901.3 L1717.4 898.5 L1718.1 896.3 L1718.8 895.1 L1719.5 894.8 L1720.2 895.5 L1720.9 896.4 L1721.6 896.9 L1722.4 896.7 L1723.1 895.2 L1723.8 892.3 L1724.5 888.4 L1725.2 883.9 L1725.9 879.9 L1726.6 876.6 L1727.3 874.1 L1728.0 872.9 L1728.7 872.9 L1729.4 874.1 L1730.1 875.6 L1730.8 877.7 L1731.5 879.8 L1732.2 881.3 L1732.9 881.6 L1733.6 880.9 L1734.3 879.0 L1735.0 876.7 L1735.7 874.6 L1736.4 872.9 L1737.2 872.4 L1737.9 873.2 L1738.6 875.3 L1739.3 878.5 L1740.0 882.1 L1740.7 885.7 L1741.4 889.3 L1742.1 892.8 L1742.8 896.2 L1743.5 899.4 L1744.2 901.4 L1744.9 902.2 L1745.6 901.9 L1746.3 900.4 L1747.0 897.7 L1747.7 893.8 L1748.4 889.0 L1749.1 884.4 L1749.8 880.0 L1750.5 876.0 L1751.2 872.2 L1751.9 868.7 L1752.7 865.5 L1753.4 862.5 L1754.1 859.9 L1754.8 857.6 L1755.5 855.8 L1756.2 854.4 L1756.9 853.6 L1757.6 853.6 L1758.3 854.5 L1759.0 856.0 L1759.7 858.0 L1760.4 860.4 L1761.1 863.4 L1761.8 866.6 L1762.5 869.9 L1763.2 873.1" stroke="#ff0000" stroke-width="1" fill="none" shape-rendering="crispEdges"/><polygon points="1760,1 1767,1 1763.5,5" fill="#22bb22"/><rect x="0" y="0" width="1916" height="1" fill="#000"/><rect x="0" y="0" width="1" height="948" fill="#000"/><rect x="1915" y="0" width="1" height="948" fill="#000"/><rect x="0" y="946" width="1916" height="2" fill="#000"/><rect x="1906.5" y="17.5" width="8" height="8" fill="#fff" stroke="#b0b0b0" stroke-width="1"/><rect x="1908" y="21" width="5" height="1" fill="#b0b0b0"/><rect x="5.5" y="844.5" width="47" height="14" fill="#fff" stroke="#000" stroke-width="1"/><rect x="55.5" y="845.5" width="12" height="12" fill="#fff" stroke="#000" stroke-width="1"/>
<text x="1843" y="62.5" font-family="Liberation Sans" font-size="12" fill="#000" font-weight="normal" text-anchor="start">6000.00</text><text x="1843" y="128.5" font-family="Liberation Sans" font-size="12" fill="#000" font-weight="normal" text-anchor="start">5500.00</text><text x="1843" y="194.5" font-family="Liberation Sans" font-size="12" fill="#000" font-weight="normal" text-anchor="start">5000.00</text><text x="1843" y="259.5" font-family="Liberation Sans" font-size="12" fill="#000" font-weight="normal" text-anchor="start">4500.00</text><text x="1843" y="325.5" font-family="Liberation Sans" font-size="12" fill="#000" font-weight="normal" text-anchor="start">4000.00</text><text x="1843" y="391.5" font-family="Liberation Sans" font-size="12" fill="#000" font-weight="normal" text-anchor="start">3500.00</text><text x="1843" y="456.5" font-family="Liberation Sans" font-size="12" fill="#000" font-weight="normal" text-anchor="start">3000.00</text><text x="1843" y="522.5" font-family="Liberation Sans" font-size="12" fill="#000" font-weight="normal" text-anchor="start">2500.00</text><text x="1843" y="588.5" font-family="Liberation Sans" font-size="12" fill="#000" font-weight="normal" text-anchor="start">2000.00</text><text x="1843" y="654.5" font-family="Liberation Sans" font-size="12" fill="#000" font-weight="normal" text-anchor="start">1500.00</text><text x="1843" y="719.5" font-family="Liberation Sans" font-size="12" fill="#000" font-weight="normal" text-anchor="start">1000.00</text><text x="1843" y="785.5" font-family="Liberation Sans" font-size="12" fill="#000" font-weight="normal" text-anchor="start">500.00</text><rect x="1838" y="535" width="77" height="14" fill="#0000ff"/><rect x="1838" y="542" width="4" height="1" fill="#fff"/><text x="1843" y="546.5" font-family="Liberation Sans" font-size="12" fill="#fff" font-weight="normal" text-anchor="start">2319.85</text><text x="1843" y="868.5" font-family="Liberation Sans" font-size="12" fill="#000" font-weight="normal" text-anchor="start">75.00</text><rect x="1838" y="864" width="77" height="14" fill="#ff0000"/><rect x="1838" y="879" width="77" height="14" fill="#000"/><rect x="1838" y="870" width="4" height="1" fill="#fff"/><rect x="1838" y="885" width="4" height="1" fill="#fff"/><text x="1843" y="875.5" font-family="Liberation Sans" font-size="12" fill="#fff" font-weight="normal" text-anchor="start">64.56</text><text x="1843" y="890.5" font-family="Liberation Sans" font-size="12" fill="#fff" font-weight="normal" text-anchor="start">51.34</text><text x="1843" y="910.5" font-family="Liberation Sans" font-size="12" fill="#000" font-weight="normal" text-anchor="start">25.000</text><text x="816" y="858.5" font-family="Liberation Sans" font-size="12" fill="#000" font-weight="normal" text-anchor="start">80.000</text><text x="1182.5" y="883.4" font-family="Liberation Sans" font-size="12" fill="#000" font-weight="normal" text-anchor="start">50.000</text><text x="1548" y="909.8" font-family="Liberation Sans" font-size="12" fill="#000" font-weight="normal" text-anchor="start">20.000</text><text x="250" y="203" font-family="Liberation Sans" font-size="12.5" font-weight="bold" fill="#000" textLength="151" lengthAdjust="spacing">ETHEREUM (ETH) USD</text><text x="434" y="202.2" font-family="Liberation Serif" font-size="12.4" fill="#000" textLength="1097" lengthAdjust="spacingAndGlyphs" xml:space="preserve">Haftungsausschluss für Inhalte: Alle Trendkanäle bzw. andere Linien, oder Grafiken hier sind keine Empfehlungen, oder Beratung, sondern die zeigen lediglich meine eigene Einschätzung. Alle Chartdaten sind ohne Gewähr.  www.wikifolio.com/de/de/p/cyberwaehrungen</text><text x="484" y="267" font-family="Liberation Sans" font-size="12" fill="#208a9c" font-weight="normal" text-anchor="start" textLength="125">Durchbruch nach oben!</text><text x="480.6" y="313" font-family="Liberation Sans" font-size="12" fill="#208a9c" font-weight="normal" text-anchor="start" textLength="126">Durchbruch nach oben!</text><text x="1446.3" y="307" font-family="Liberation Sans" font-size="12" fill="#208a9c" font-weight="normal" text-anchor="start" textLength="127">Durchbruch nach oben!</text><text x="393" y="833" font-family="Liberation Sans" font-size="12" fill="#1a1a9a" textLength="928" lengthAdjust="spacingAndGlyphs">- Stochastik-Oszillator - Ein Indikator, für erfahrene viel-Trader, schwankt zwischen Null und 100. Seine überverkaufte Zone, liegt unter 20 und die überkaufte Zone, über 80.</text><text x="8" y="856" font-family="Liberation Sans" font-size="12" fill="#0a0a30" font-weight="normal" text-anchor="start">Sto(9/5)</text><rect x="57" y="850" width="9" height="2" fill="#000"/><rect x="60.5" y="847" width="2" height="9" fill="#000"/><rect x="8" y="860" width="20" height="11" fill="#fff"/><rect x="8" y="875" width="21" height="12" fill="#fff"/><text x="8" y="871" font-family="Liberation Sans" font-size="12" fill="#0a0a30" font-weight="normal" text-anchor="start">%K</text><text x="8" y="886" font-family="Liberation Sans" font-size="12" fill="#ff0000" font-weight="normal" text-anchor="start">%D</text><g font-family="Liberation Sans" font-size="12" fill="#000"><text x="75" y="944.5" text-anchor="end">10</text><text x="78" y="944.5">19</text><text x="118" y="944.5" text-anchor="end">12</text><text x="121" y="944.5">19</text><text x="160" y="944.5" text-anchor="end">02</text><text x="163" y="944.5">20</text><text x="201" y="944.5" text-anchor="end">04</text><text x="204" y="944.5">20</text><text x="244" y="944.5" text-anchor="end">06</text><text x="247" y="944.5">20</text><text x="288" y="944.5" text-anchor="end">08</text><text x="291" y="944.5">20</text><text x="331" y="944.5" text-anchor="end">10</text><text x="334" y="944.5">20</text><text x="373" y="944.5" text-anchor="end">12</text><text x="376" y="944.5">20</text><text x="416" y="944.5" text-anchor="end">02</text><text x="419" y="944.5">21</text><text x="459" y="944.5" text-anchor="end">04</text><text x="462" y="944.5">21</text><text x="501" y="944.5" text-anchor="end">06</text><text x="504" y="944.5">21</text><text x="545" y="944.5" text-anchor="end">08</text><text x="548" y="944.5">21</text><text x="588" y="944.5" text-anchor="end">10</text><text x="591" y="944.5">21</text><text x="630" y="944.5" text-anchor="end">12</text><text x="633" y="944.5">21</text><text x="674" y="944.5" text-anchor="end">02</text><text x="677" y="944.5">22</text><text x="716" y="944.5" text-anchor="end">04</text><text x="719" y="944.5">22</text><text x="759" y="944.5" text-anchor="end">06</text><text x="762" y="944.5">22</text><text x="801" y="944.5" text-anchor="end">08</text><text x="804" y="944.5">22</text><text x="845" y="944.5" text-anchor="end">10</text><text x="848" y="944.5">22</text><text x="888" y="944.5" text-anchor="end">12</text><text x="891" y="944.5">22</text><text x="931" y="944.5" text-anchor="end">02</text><text x="934" y="944.5">23</text><text x="974" y="944.5" text-anchor="end">04</text><text x="977" y="944.5">23</text><text x="1016" y="944.5" text-anchor="end">06</text><text x="1019" y="944.5">23</text><text x="1059" y="944.5" text-anchor="end">08</text><text x="1062" y="944.5">23</text><text x="1102" y="944.5" text-anchor="end">10</text><text x="1105" y="944.5">23</text><text x="1145" y="944.5" text-anchor="end">12</text><text x="1148" y="944.5">23</text><text x="1189" y="944.5" text-anchor="end">02</text><text x="1192" y="944.5">24</text><text x="1230" y="944.5" text-anchor="end">04</text><text x="1233" y="944.5">24</text><text x="1275" y="944.5" text-anchor="end">06</text><text x="1278" y="944.5">24</text><text x="1317" y="944.5" text-anchor="end">08</text><text x="1320" y="944.5">24</text><text x="1359" y="944.5" text-anchor="end">10</text><text x="1362" y="944.5">24</text><text x="1403" y="944.5" text-anchor="end">12</text><text x="1406" y="944.5">24</text><text x="1447" y="944.5" text-anchor="end">02</text><text x="1450" y="944.5">25</text><text x="1488" y="944.5" text-anchor="end">04</text><text x="1491" y="944.5">25</text><text x="1531" y="944.5" text-anchor="end">06</text><text x="1534" y="944.5">25</text><text x="1575" y="944.5" text-anchor="end">08</text><text x="1578" y="944.5">25</text><text x="1617" y="944.5" text-anchor="end">10</text><text x="1620" y="944.5">25</text><text x="1659" y="944.5" text-anchor="end">12</text><text x="1662" y="944.5">25</text><text x="1704" y="944.5" text-anchor="end">02</text><text x="1707" y="944.5">26</text><text x="1745" y="944.5" text-anchor="end">04</text><text x="1748" y="944.5">26</text><text x="1788" y="944.5" text-anchor="end">06</text><text x="1791" y="944.5">26</text><text x="1827" y="944.5">-</text></g><rect x="1" y="933" width="83" height="13" fill="#fff"/><rect x="85" y="936" width="1" height="9" fill="#a0e0f0"/><text x="11" y="944.5" font-family="Liberation Sans" font-size="12" fill="#000" font-weight="normal" text-anchor="start">27.04.26</text>
</svg></body></html>
